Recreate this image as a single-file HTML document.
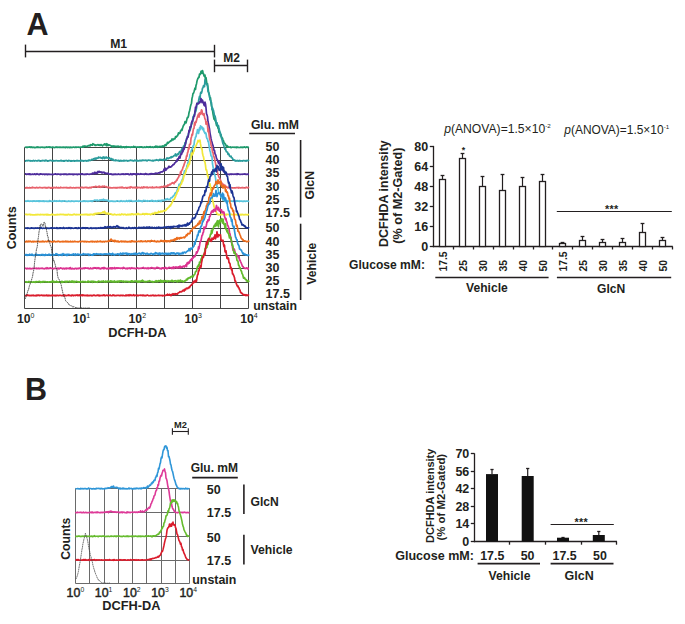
<!DOCTYPE html>
<html><head><meta charset="utf-8"><title>Figure</title>
<style>html,body{margin:0;padding:0;background:#fff;width:685px;height:624px;overflow:hidden}
svg{display:block;font-family:"Liberation Sans",sans-serif}</style></head>
<body>
<svg width="685" height="624" viewBox="0 0 685 624" font-family="Liberation Sans, sans-serif" fill="#231f20">
<line x1="24.50" y1="147.50" x2="24.50" y2="308.50" stroke="#444444" stroke-width="1.0" />
<line x1="52.50" y1="147.50" x2="52.50" y2="308.50" stroke="#444444" stroke-width="1.0" />
<line x1="80.50" y1="147.50" x2="80.50" y2="308.50" stroke="#444444" stroke-width="1.0" />
<line x1="108.50" y1="147.50" x2="108.50" y2="308.50" stroke="#444444" stroke-width="1.0" />
<line x1="136.50" y1="147.50" x2="136.50" y2="308.50" stroke="#444444" stroke-width="1.0" />
<line x1="164.50" y1="147.50" x2="164.50" y2="308.50" stroke="#444444" stroke-width="1.0" />
<line x1="192.50" y1="147.50" x2="192.50" y2="308.50" stroke="#444444" stroke-width="1.0" />
<line x1="220.50" y1="147.50" x2="220.50" y2="308.50" stroke="#444444" stroke-width="1.0" />
<line x1="248.50" y1="147.50" x2="248.50" y2="308.50" stroke="#444444" stroke-width="1.0" />
<line x1="24.50" y1="147.50" x2="248.50" y2="147.50" stroke="#444444" stroke-width="1.0" />
<line x1="24.50" y1="160.50" x2="248.50" y2="160.50" stroke="#444444" stroke-width="1.0" />
<line x1="24.50" y1="174.50" x2="248.50" y2="174.50" stroke="#444444" stroke-width="1.0" />
<line x1="24.50" y1="187.50" x2="248.50" y2="187.50" stroke="#444444" stroke-width="1.0" />
<line x1="24.50" y1="201.50" x2="248.50" y2="201.50" stroke="#444444" stroke-width="1.0" />
<line x1="24.50" y1="214.50" x2="248.50" y2="214.50" stroke="#444444" stroke-width="1.0" />
<line x1="24.50" y1="228.50" x2="248.50" y2="228.50" stroke="#444444" stroke-width="1.0" />
<line x1="24.50" y1="241.50" x2="248.50" y2="241.50" stroke="#444444" stroke-width="1.0" />
<line x1="24.50" y1="255.50" x2="248.50" y2="255.50" stroke="#444444" stroke-width="1.0" />
<line x1="24.50" y1="268.50" x2="248.50" y2="268.50" stroke="#444444" stroke-width="1.0" />
<line x1="24.50" y1="282.50" x2="248.50" y2="282.50" stroke="#444444" stroke-width="1.0" />
<line x1="24.50" y1="295.50" x2="248.50" y2="295.50" stroke="#444444" stroke-width="1.0" />
<line x1="24.50" y1="308.50" x2="248.50" y2="308.50" stroke="#444444" stroke-width="1.0" />
<path d="M25.0 147.55 L25.5 147.24 L26.0 147.13 L26.5 147.18 L27.0 147.51 L27.5 147.06 L28.0 147.15 L28.5 147.14 L29.0 147.14 L29.5 147.06 L30.0 146.81 L30.5 147.43 L31.0 147.29 L31.5 146.91 L32.0 147.59 L32.5 147.23 L33.0 147.45 L33.5 147.30 L34.0 147.20 L34.5 147.60 L35.0 147.52 L35.5 147.60 L36.0 147.35 L36.5 147.45 L37.0 146.97 L37.5 147.43 L38.0 146.92 L38.5 147.39 L39.0 147.24 L39.5 147.29 L40.0 147.30 L40.5 147.55 L41.0 147.23 L41.5 147.22 L42.0 147.25 L42.5 147.16 L43.0 147.48 L43.5 147.37 L44.0 147.45 L44.5 147.60 L45.0 147.22 L45.5 147.44 L46.0 147.32 L46.5 146.81 L47.0 147.25 L47.5 147.28 L48.0 147.06 L48.5 147.03 L49.0 146.90 L49.5 147.41 L50.0 146.90 L50.5 147.33 L51.0 147.55 L51.5 147.50 L52.0 147.06 L52.5 147.13 L53.0 147.02 L53.5 147.50 L54.0 147.37 L54.5 147.56 L55.0 147.60 L55.5 147.30 L56.0 146.95 L56.5 147.06 L57.0 147.47 L57.5 147.04 L58.0 147.43 L58.5 147.23 L59.0 147.12 L59.5 147.39 L60.0 147.49 L60.5 147.16 L61.0 147.34 L61.5 147.42 L62.0 147.16 L62.5 147.35 L63.0 147.22 L63.5 147.51 L64.0 147.14 L64.5 147.51 L65.0 147.38 L65.5 147.60 L66.0 147.05 L66.5 147.28 L67.0 147.20 L67.5 147.60 L68.0 147.27 L68.5 147.39 L69.0 147.04 L69.5 147.60 L70.0 147.22 L70.5 147.07 L71.0 147.56 L71.5 147.28 L72.0 147.54 L72.5 147.29 L73.0 147.23 L73.5 147.01 L74.0 147.26 L74.5 147.45 L75.0 147.17 L75.5 147.30 L76.0 147.06 L76.5 147.43 L77.0 147.01 L77.5 147.26 L78.0 147.25 L78.5 147.07 L79.0 147.42 L79.5 147.40 L80.0 147.12 L80.5 147.22 L81.0 147.11 L81.5 147.17 L82.0 147.06 L82.5 146.61 L83.0 146.16 L83.5 147.18 L84.0 146.11 L84.5 146.29 L85.0 146.03 L85.5 146.31 L86.0 146.55 L86.5 146.24 L87.0 146.41 L87.5 146.59 L88.0 145.83 L88.5 145.57 L89.0 145.67 L89.5 145.34 L90.0 145.97 L90.5 144.71 L91.0 145.13 L91.5 144.94 L92.0 144.57 L92.5 145.12 L93.0 143.70 L93.5 144.33 L94.0 144.37 L94.5 144.89 L95.0 145.31 L95.5 144.80 L96.0 145.37 L96.5 144.98 L97.0 145.01 L97.5 144.60 L98.0 144.98 L98.5 145.14 L99.0 144.63 L99.5 145.30 L100.0 145.47 L100.5 145.43 L101.0 144.52 L101.5 145.08 L102.0 145.29 L102.5 145.85 L103.0 145.37 L103.5 144.69 L104.0 144.50 L104.5 143.93 L105.0 144.97 L105.5 144.38 L106.0 144.02 L106.5 145.74 L107.0 143.72 L107.5 145.42 L108.0 145.54 L108.5 144.76 L109.0 145.12 L109.5 144.92 L110.0 145.29 L110.5 145.57 L111.0 145.88 L111.5 146.25 L112.0 145.82 L112.5 146.87 L113.0 146.28 L113.5 145.98 L114.0 146.75 L114.5 146.07 L115.0 146.09 L115.5 146.47 L116.0 146.60 L116.5 146.41 L117.0 146.44 L117.5 146.80 L118.0 146.10 L118.5 146.34 L119.0 146.56 L119.5 146.49 L120.0 146.56 L120.5 147.41 L121.0 146.23 L121.5 147.44 L122.0 146.94 L122.5 147.33 L123.0 146.81 L123.5 146.87 L124.0 146.93 L124.5 147.60 L125.0 146.76 L125.5 146.92 L126.0 147.60 L126.5 146.54 L127.0 147.05 L127.5 147.23 L128.0 146.87 L128.5 147.16 L129.0 146.88 L129.5 147.11 L130.0 147.27 L130.5 147.35 L131.0 146.76 L131.5 146.97 L132.0 147.23 L132.5 147.18 L133.0 147.27 L133.5 146.35 L134.0 146.88 L134.5 146.94 L135.0 146.54 L135.5 147.20 L136.0 147.33 L136.5 147.15 L137.0 146.95 L137.5 147.06 L138.0 147.10 L138.5 146.95 L139.0 147.14 L139.5 147.33 L140.0 146.78 L140.5 147.09 L141.0 147.09 L141.5 146.85 L142.0 146.88 L142.5 147.35 L143.0 147.23 L143.5 147.43 L144.0 147.37 L144.5 146.92 L145.0 147.16 L145.5 147.30 L146.0 147.41 L146.5 146.63 L147.0 147.14 L147.5 146.94 L148.0 147.04 L148.5 147.30 L149.0 146.88 L149.5 146.97 L150.0 146.61 L150.5 146.81 L151.0 147.37 L151.5 147.01 L152.0 146.99 L152.5 146.96 L153.0 147.32 L153.5 147.44 L154.0 146.94 L154.5 146.77 L155.0 147.25 L155.5 146.25 L156.0 146.62 L156.5 146.98 L157.0 146.13 L157.5 147.29 L158.0 147.11 L158.5 147.12 L159.0 146.35 L159.5 146.96 L160.0 146.42 L160.5 146.52 L161.0 146.74 L161.5 146.40 L162.0 146.79 L162.5 145.95 L163.0 146.55 L163.5 146.42 L164.0 145.70 L164.5 146.01 L165.0 144.80 L165.5 144.64 L166.0 145.59 L166.5 144.30 L167.0 143.98 L167.5 142.32 L168.0 143.25 L168.5 142.83 L169.0 142.14 L169.5 141.73 L170.0 141.75 L170.5 140.70 L171.0 140.84 L171.5 140.71 L172.0 138.88 L172.5 139.41 L173.0 139.85 L173.5 139.75 L174.0 138.72 L174.5 139.00 L175.0 138.70 L175.5 136.68 L176.0 137.13 L176.5 136.94 L177.0 135.85 L177.5 135.81 L178.0 134.72 L178.5 132.77 L179.0 133.56 L179.5 133.38 L180.0 133.15 L180.5 130.98 L181.0 130.83 L181.5 129.45 L182.0 130.24 L182.5 128.21 L183.0 126.80 L183.5 125.41 L184.0 124.66 L184.5 124.16 L185.0 121.66 L185.5 121.90 L186.0 122.92 L186.5 121.09 L187.0 118.75 L187.5 117.25 L188.0 117.56 L188.5 116.01 L189.0 112.71 L189.5 111.03 L190.0 108.87 L190.5 106.19 L191.0 104.56 L191.5 103.21 L192.0 98.35 L192.5 96.47 L193.0 93.53 L193.5 93.20 L194.0 91.77 L194.5 89.87 L195.0 88.05 L195.5 89.37 L196.0 85.38 L196.5 83.95 L197.0 81.13 L197.5 79.37 L198.0 78.54 L198.5 77.23 L199.0 77.42 L199.5 74.16 L200.0 74.63 L200.5 73.91 L201.0 71.35 L201.5 71.20 L202.0 73.31 L202.5 70.50 L203.0 72.31 L203.5 73.74 L204.0 75.73 L204.5 76.56 L205.0 75.10 L205.5 81.05 L206.0 77.62 L206.5 81.13 L207.0 84.58 L207.5 83.72 L208.0 87.60 L208.5 91.70 L209.0 93.18 L209.5 96.22 L210.0 99.01 L210.5 97.78 L211.0 102.90 L211.5 105.99 L212.0 107.46 L212.5 110.17 L213.0 113.85 L213.5 116.29 L214.0 119.22 L214.5 117.94 L215.0 120.64 L215.5 120.82 L216.0 122.92 L216.5 125.43 L217.0 125.90 L217.5 125.19 L218.0 128.35 L218.5 128.66 L219.0 132.40 L219.5 132.36 L220.0 132.26 L220.5 135.77 L221.0 134.80 L221.5 137.16 L222.0 138.42 L222.5 138.23 L223.0 140.64 L223.5 140.80 L224.0 142.72 L224.5 143.24 L225.0 143.71 L225.5 144.37 L226.0 145.53 L226.5 146.81 L227.0 145.63 L227.5 146.78 L228.0 146.41 L228.5 147.26 L229.0 147.27 L229.5 147.21 L230.0 147.28 L230.5 146.83 L231.0 147.60 L231.5 147.41 L232.0 147.23 L232.5 147.19 L233.0 147.28 L233.5 147.24 L234.0 147.06 L234.5 147.41 L235.0 147.41 L235.5 147.31 L236.0 147.13 L236.5 147.60 L237.0 146.87 L237.5 147.37 L238.0 147.43 L238.5 147.37 L239.0 147.54 L239.5 147.50 L240.0 147.36 L240.5 147.19 L241.0 147.13 L241.5 147.38 L242.0 147.36 L242.5 147.19 L243.0 147.60 L243.5 147.33 L244.0 147.06 L244.5 146.93 L245.0 147.34 L245.5 147.60 L246.0 147.43 L246.5 147.02 L247.0 146.85 L247.5 147.33 L248.0 147.60 L248.5 147.26 L249.0 147.12" fill="none" stroke="#1e9a6c" stroke-width="1.7" stroke-linejoin="round" />
<path d="M25.0 160.94 L25.5 161.07 L26.0 160.64 L26.5 160.61 L27.0 160.84 L27.5 160.69 L28.0 160.39 L28.5 160.54 L29.0 160.61 L29.5 160.62 L30.0 160.96 L30.5 160.56 L31.0 161.07 L31.5 160.84 L32.0 160.87 L32.5 161.07 L33.0 160.79 L33.5 160.41 L34.0 160.84 L34.5 161.04 L35.0 160.79 L35.5 160.58 L36.0 160.73 L36.5 160.77 L37.0 161.07 L37.5 160.66 L38.0 160.66 L38.5 160.47 L39.0 160.44 L39.5 160.62 L40.0 161.07 L40.5 161.07 L41.0 161.01 L41.5 160.71 L42.0 160.94 L42.5 160.48 L43.0 160.72 L43.5 160.69 L44.0 160.60 L44.5 160.70 L45.0 161.07 L45.5 160.23 L46.0 160.45 L46.5 160.43 L47.0 160.93 L47.5 161.07 L48.0 161.07 L48.5 161.00 L49.0 160.58 L49.5 160.57 L50.0 160.45 L50.5 160.30 L51.0 160.66 L51.5 160.69 L52.0 160.85 L52.5 160.84 L53.0 161.02 L53.5 160.66 L54.0 160.70 L54.5 160.86 L55.0 160.95 L55.5 160.67 L56.0 160.48 L56.5 160.75 L57.0 160.71 L57.5 160.89 L58.0 160.82 L58.5 160.84 L59.0 160.83 L59.5 160.90 L60.0 160.68 L60.5 160.48 L61.0 160.98 L61.5 160.46 L62.0 160.86 L62.5 160.85 L63.0 161.07 L63.5 161.07 L64.0 160.61 L64.5 161.01 L65.0 160.59 L65.5 160.76 L66.0 160.71 L66.5 160.48 L67.0 160.79 L67.5 161.07 L68.0 161.07 L68.5 160.56 L69.0 160.33 L69.5 160.79 L70.0 160.92 L70.5 161.07 L71.0 160.65 L71.5 161.07 L72.0 161.04 L72.5 160.74 L73.0 160.75 L73.5 160.83 L74.0 160.54 L74.5 161.04 L75.0 161.03 L75.5 160.86 L76.0 160.76 L76.5 160.84 L77.0 160.33 L77.5 160.90 L78.0 160.63 L78.5 160.90 L79.0 160.70 L79.5 160.87 L80.0 160.86 L80.5 160.41 L81.0 160.84 L81.5 160.39 L82.0 160.93 L82.5 160.87 L83.0 160.53 L83.5 161.07 L84.0 161.07 L84.5 160.77 L85.0 160.67 L85.5 160.64 L86.0 160.84 L86.5 161.07 L87.0 160.57 L87.5 160.63 L88.0 160.98 L88.5 160.57 L89.0 159.93 L89.5 160.30 L90.0 160.60 L90.5 160.21 L91.0 160.05 L91.5 159.64 L92.0 159.28 L92.5 159.85 L93.0 159.61 L93.5 158.78 L94.0 158.74 L94.5 158.33 L95.0 159.41 L95.5 159.05 L96.0 158.01 L96.5 158.76 L97.0 158.02 L97.5 158.05 L98.0 158.23 L98.5 157.01 L99.0 157.59 L99.5 157.73 L100.0 157.48 L100.5 157.26 L101.0 158.20 L101.5 157.89 L102.0 158.16 L102.5 158.63 L103.0 157.16 L103.5 156.97 L104.0 157.11 L104.5 158.55 L105.0 157.44 L105.5 157.25 L106.0 157.81 L106.5 157.05 L107.0 157.98 L107.5 157.96 L108.0 157.92 L108.5 158.03 L109.0 158.41 L109.5 157.76 L110.0 159.01 L110.5 159.03 L111.0 159.40 L111.5 158.52 L112.0 159.98 L112.5 159.63 L113.0 159.26 L113.5 160.44 L114.0 160.39 L114.5 160.30 L115.0 160.71 L115.5 159.96 L116.0 160.59 L116.5 160.21 L117.0 160.45 L117.5 160.66 L118.0 160.47 L118.5 160.82 L119.0 160.50 L119.5 161.07 L120.0 160.93 L120.5 160.44 L121.0 161.07 L121.5 160.60 L122.0 160.82 L122.5 160.85 L123.0 160.89 L123.5 160.36 L124.0 161.07 L124.5 160.46 L125.0 160.55 L125.5 160.78 L126.0 160.69 L126.5 160.46 L127.0 160.81 L127.5 161.06 L128.0 160.56 L128.5 160.86 L129.0 160.74 L129.5 160.60 L130.0 160.40 L130.5 160.09 L131.0 160.50 L131.5 160.55 L132.0 160.35 L132.5 160.49 L133.0 161.05 L133.5 160.73 L134.0 160.91 L134.5 160.34 L135.0 160.17 L135.5 160.43 L136.0 160.83 L136.5 160.28 L137.0 160.80 L137.5 160.43 L138.0 160.86 L138.5 160.91 L139.0 160.91 L139.5 160.47 L140.0 160.67 L140.5 160.33 L141.0 160.85 L141.5 160.30 L142.0 160.63 L142.5 160.06 L143.0 160.12 L143.5 160.49 L144.0 160.39 L144.5 160.34 L145.0 160.26 L145.5 160.48 L146.0 160.05 L146.5 160.54 L147.0 160.98 L147.5 160.29 L148.0 160.40 L148.5 160.09 L149.0 160.16 L149.5 160.30 L150.0 160.30 L150.5 160.29 L151.0 160.54 L151.5 160.71 L152.0 160.57 L152.5 160.33 L153.0 161.03 L153.5 160.43 L154.0 160.60 L154.5 160.30 L155.0 160.52 L155.5 160.20 L156.0 160.26 L156.5 159.71 L157.0 160.23 L157.5 160.15 L158.0 160.02 L158.5 160.63 L159.0 160.33 L159.5 159.39 L160.0 159.68 L160.5 159.80 L161.0 159.39 L161.5 159.82 L162.0 159.80 L162.5 159.78 L163.0 160.31 L163.5 159.23 L164.0 159.61 L164.5 159.52 L165.0 159.52 L165.5 159.52 L166.0 160.05 L166.5 158.89 L167.0 157.84 L167.5 158.18 L168.0 158.57 L168.5 158.69 L169.0 158.08 L169.5 157.75 L170.0 157.81 L170.5 157.17 L171.0 157.87 L171.5 156.67 L172.0 156.92 L172.5 157.05 L173.0 156.68 L173.5 156.10 L174.0 155.63 L174.5 155.76 L175.0 155.23 L175.5 153.92 L176.0 155.97 L176.5 155.91 L177.0 154.36 L177.5 154.68 L178.0 153.68 L178.5 154.42 L179.0 152.96 L179.5 151.80 L180.0 151.49 L180.5 152.47 L181.0 151.41 L181.5 149.96 L182.0 148.53 L182.5 149.69 L183.0 148.69 L183.5 146.18 L184.0 146.27 L184.5 145.69 L185.0 142.73 L185.5 143.74 L186.0 141.52 L186.5 138.64 L187.0 138.71 L187.5 136.02 L188.0 136.60 L188.5 133.29 L189.0 132.25 L189.5 129.71 L190.0 130.25 L190.5 128.87 L191.0 126.94 L191.5 123.86 L192.0 123.95 L192.5 121.33 L193.0 116.94 L193.5 116.48 L194.0 114.76 L194.5 114.56 L195.0 111.09 L195.5 111.93 L196.0 110.63 L196.5 108.19 L197.0 103.35 L197.5 103.42 L198.0 103.43 L198.5 101.25 L199.0 98.77 L199.5 96.36 L200.0 98.92 L200.5 93.19 L201.0 92.20 L201.5 92.99 L202.0 90.98 L202.5 88.10 L203.0 87.75 L203.5 85.69 L204.0 86.34 L204.5 86.72 L205.0 79.88 L205.5 83.45 L206.0 83.78 L206.5 84.06 L207.0 83.97 L207.5 86.26 L208.0 91.25 L208.5 92.19 L209.0 94.26 L209.5 95.57 L210.0 99.64 L210.5 100.27 L211.0 102.38 L211.5 102.64 L212.0 109.73 L212.5 107.92 L213.0 109.32 L213.5 110.62 L214.0 113.22 L214.5 115.98 L215.0 115.89 L215.5 118.00 L216.0 121.13 L216.5 123.32 L217.0 122.60 L217.5 125.61 L218.0 125.30 L218.5 125.82 L219.0 128.85 L219.5 130.58 L220.0 132.56 L220.5 133.23 L221.0 135.15 L221.5 138.27 L222.0 139.49 L222.5 141.85 L223.0 143.90 L223.5 144.26 L224.0 146.19 L224.5 147.86 L225.0 149.34 L225.5 148.47 L226.0 150.82 L226.5 151.79 L227.0 152.02 L227.5 152.11 L228.0 154.37 L228.5 153.56 L229.0 154.38 L229.5 155.95 L230.0 156.51 L230.5 156.58 L231.0 156.09 L231.5 157.76 L232.0 157.69 L232.5 158.33 L233.0 159.89 L233.5 159.70 L234.0 159.73 L234.5 160.53 L235.0 160.23 L235.5 160.98 L236.0 161.07 L236.5 160.87 L237.0 160.63 L237.5 160.85 L238.0 160.57 L238.5 161.07 L239.0 160.90 L239.5 160.47 L240.0 161.07 L240.5 160.70 L241.0 160.96 L241.5 160.93 L242.0 160.84 L242.5 161.07 L243.0 160.56 L243.5 160.64 L244.0 160.50 L244.5 160.73 L245.0 160.98 L245.5 160.63 L246.0 161.06 L246.5 160.97 L247.0 160.31 L247.5 160.53 L248.0 160.67 L248.5 160.44 L249.0 160.83" fill="none" stroke="#2a9c9c" stroke-width="1.7" stroke-linejoin="round" />
<path d="M25.0 174.10 L25.5 173.76 L26.0 174.03 L26.5 174.48 L27.0 174.37 L27.5 174.05 L28.0 174.25 L28.5 173.98 L29.0 174.54 L29.5 173.78 L30.0 173.83 L30.5 174.54 L31.0 174.31 L31.5 174.37 L32.0 174.32 L32.5 174.02 L33.0 174.35 L33.5 174.44 L34.0 174.07 L34.5 173.93 L35.0 174.33 L35.5 174.16 L36.0 174.54 L36.5 174.00 L37.0 173.71 L37.5 174.09 L38.0 174.24 L38.5 174.54 L39.0 174.29 L39.5 174.54 L40.0 174.05 L40.5 173.82 L41.0 173.91 L41.5 174.18 L42.0 174.11 L42.5 174.38 L43.0 174.17 L43.5 174.17 L44.0 174.23 L44.5 174.54 L45.0 174.17 L45.5 174.13 L46.0 174.40 L46.5 174.13 L47.0 174.05 L47.5 174.54 L48.0 174.03 L48.5 174.35 L49.0 174.50 L49.5 174.21 L50.0 174.43 L50.5 174.36 L51.0 174.48 L51.5 174.41 L52.0 174.53 L52.5 174.39 L53.0 174.50 L53.5 174.54 L54.0 174.01 L54.5 174.24 L55.0 174.15 L55.5 173.86 L56.0 174.10 L56.5 174.24 L57.0 174.50 L57.5 174.07 L58.0 174.14 L58.5 174.01 L59.0 174.27 L59.5 174.33 L60.0 174.54 L60.5 174.12 L61.0 174.54 L61.5 174.36 L62.0 174.14 L62.5 174.24 L63.0 174.27 L63.5 174.15 L64.0 174.54 L64.5 174.24 L65.0 173.97 L65.5 173.99 L66.0 174.54 L66.5 174.04 L67.0 174.15 L67.5 174.48 L68.0 174.54 L68.5 174.29 L69.0 173.94 L69.5 174.14 L70.0 174.47 L70.5 174.23 L71.0 174.02 L71.5 174.27 L72.0 174.36 L72.5 174.15 L73.0 174.54 L73.5 174.15 L74.0 174.54 L74.5 174.27 L75.0 174.17 L75.5 174.29 L76.0 174.43 L76.5 174.34 L77.0 174.07 L77.5 174.54 L78.0 174.46 L78.5 174.18 L79.0 174.07 L79.5 174.26 L80.0 174.38 L80.5 174.09 L81.0 174.34 L81.5 173.79 L82.0 173.95 L82.5 173.82 L83.0 174.47 L83.5 174.36 L84.0 174.31 L84.5 174.54 L85.0 174.37 L85.5 174.04 L86.0 174.48 L86.5 174.32 L87.0 173.91 L87.5 174.18 L88.0 174.14 L88.5 174.25 L89.0 174.40 L89.5 174.32 L90.0 174.11 L90.5 174.27 L91.0 173.98 L91.5 174.02 L92.0 173.78 L92.5 173.08 L93.0 173.28 L93.5 173.87 L94.0 173.33 L94.5 172.41 L95.0 172.28 L95.5 173.36 L96.0 172.57 L96.5 172.63 L97.0 173.60 L97.5 172.25 L98.0 171.36 L98.5 172.46 L99.0 172.16 L99.5 171.50 L100.0 172.12 L100.5 172.15 L101.0 171.89 L101.5 172.79 L102.0 172.03 L102.5 172.96 L103.0 172.48 L103.5 172.28 L104.0 172.06 L104.5 173.20 L105.0 172.91 L105.5 173.03 L106.0 173.94 L106.5 173.41 L107.0 173.42 L107.5 173.43 L108.0 173.08 L108.5 173.84 L109.0 174.01 L109.5 174.12 L110.0 174.17 L110.5 174.09 L111.0 173.84 L111.5 174.49 L112.0 174.23 L112.5 174.54 L113.0 174.54 L113.5 174.19 L114.0 174.54 L114.5 174.14 L115.0 173.89 L115.5 174.43 L116.0 174.40 L116.5 174.21 L117.0 174.34 L117.5 174.22 L118.0 174.38 L118.5 173.97 L119.0 174.11 L119.5 174.21 L120.0 174.54 L120.5 174.37 L121.0 174.17 L121.5 173.99 L122.0 174.35 L122.5 174.01 L123.0 173.94 L123.5 174.33 L124.0 173.96 L124.5 174.21 L125.0 174.46 L125.5 174.16 L126.0 173.79 L126.5 174.04 L127.0 174.13 L127.5 173.90 L128.0 173.94 L128.5 174.07 L129.0 174.54 L129.5 174.54 L130.0 174.54 L130.5 173.66 L131.0 173.93 L131.5 174.54 L132.0 173.90 L132.5 174.52 L133.0 174.06 L133.5 173.85 L134.0 174.15 L134.5 173.88 L135.0 173.86 L135.5 174.54 L136.0 174.13 L136.5 173.97 L137.0 174.25 L137.5 174.49 L138.0 173.68 L138.5 174.02 L139.0 174.26 L139.5 174.35 L140.0 174.11 L140.5 173.74 L141.0 174.23 L141.5 173.93 L142.0 173.99 L142.5 174.13 L143.0 174.06 L143.5 174.04 L144.0 174.33 L144.5 174.47 L145.0 173.84 L145.5 173.62 L146.0 173.87 L146.5 174.29 L147.0 174.02 L147.5 174.18 L148.0 174.43 L148.5 174.32 L149.0 174.18 L149.5 173.85 L150.0 174.35 L150.5 173.66 L151.0 173.99 L151.5 173.64 L152.0 173.69 L152.5 173.93 L153.0 173.95 L153.5 173.88 L154.0 173.87 L154.5 173.72 L155.0 173.32 L155.5 173.61 L156.0 173.19 L156.5 173.27 L157.0 173.61 L157.5 173.18 L158.0 173.00 L158.5 172.79 L159.0 173.14 L159.5 172.41 L160.0 172.89 L160.5 172.48 L161.0 171.85 L161.5 171.76 L162.0 171.93 L162.5 171.84 L163.0 171.17 L163.5 170.96 L164.0 169.19 L164.5 170.55 L165.0 170.48 L165.5 168.23 L166.0 170.11 L166.5 169.25 L167.0 168.38 L167.5 168.40 L168.0 167.98 L168.5 166.98 L169.0 166.24 L169.5 167.27 L170.0 166.92 L170.5 167.08 L171.0 166.93 L171.5 166.53 L172.0 165.69 L172.5 165.68 L173.0 164.62 L173.5 164.59 L174.0 164.47 L174.5 163.39 L175.0 162.77 L175.5 162.40 L176.0 161.78 L176.5 160.48 L177.0 161.34 L177.5 159.03 L178.0 159.67 L178.5 158.71 L179.0 156.94 L179.5 156.48 L180.0 158.01 L180.5 155.24 L181.0 153.38 L181.5 154.45 L182.0 153.01 L182.5 150.32 L183.0 151.77 L183.5 147.75 L184.0 149.54 L184.5 147.55 L185.0 145.84 L185.5 144.10 L186.0 141.13 L186.5 139.81 L187.0 138.39 L187.5 136.67 L188.0 137.13 L188.5 134.35 L189.0 130.66 L189.5 131.77 L190.0 126.95 L190.5 127.27 L191.0 126.73 L191.5 122.79 L192.0 121.21 L192.5 121.43 L193.0 119.61 L193.5 118.18 L194.0 115.90 L194.5 116.19 L195.0 111.85 L195.5 107.09 L196.0 107.90 L196.5 105.09 L197.0 103.28 L197.5 103.46 L198.0 103.91 L198.5 103.64 L199.0 103.35 L199.5 101.76 L200.0 102.49 L200.5 100.44 L201.0 98.48 L201.5 99.98 L202.0 102.69 L202.5 100.19 L203.0 101.69 L203.5 103.12 L204.0 104.97 L204.5 105.74 L205.0 102.19 L205.5 103.98 L206.0 107.79 L206.5 113.75 L207.0 114.87 L207.5 116.63 L208.0 121.73 L208.5 123.75 L209.0 126.37 L209.5 128.91 L210.0 133.04 L210.5 135.63 L211.0 138.50 L211.5 140.67 L212.0 142.17 L212.5 144.42 L213.0 145.46 L213.5 147.87 L214.0 150.26 L214.5 150.44 L215.0 153.78 L215.5 154.51 L216.0 156.08 L216.5 158.35 L217.0 159.10 L217.5 160.03 L218.0 161.70 L218.5 163.25 L219.0 161.36 L219.5 164.67 L220.0 165.41 L220.5 166.35 L221.0 167.20 L221.5 167.70 L222.0 168.75 L222.5 170.43 L223.0 170.73 L223.5 171.20 L224.0 172.09 L224.5 171.93 L225.0 172.68 L225.5 172.81 L226.0 173.87 L226.5 173.24 L227.0 174.08 L227.5 174.44 L228.0 174.45 L228.5 174.43 L229.0 174.18 L229.5 174.54 L230.0 174.46 L230.5 174.01 L231.0 173.97 L231.5 174.48 L232.0 174.21 L232.5 174.19 L233.0 174.28 L233.5 174.36 L234.0 174.05 L234.5 174.29 L235.0 174.18 L235.5 174.05 L236.0 174.43 L236.5 174.42 L237.0 173.73 L237.5 174.44 L238.0 173.97 L238.5 173.96 L239.0 174.20 L239.5 174.29 L240.0 174.24 L240.5 174.38 L241.0 174.22 L241.5 174.27 L242.0 174.34 L242.5 174.30 L243.0 174.04 L243.5 174.22 L244.0 174.27 L244.5 173.80 L245.0 174.23 L245.5 174.09 L246.0 174.41 L246.5 174.45 L247.0 174.12 L247.5 174.01 L248.0 174.54 L248.5 174.08 L249.0 174.05" fill="none" stroke="#4e2c9c" stroke-width="1.7" stroke-linejoin="round" />
<path d="M25.0 187.47 L25.5 187.99 L26.0 187.57 L26.5 187.97 L27.0 187.47 L27.5 188.01 L28.0 187.87 L28.5 187.84 L29.0 188.01 L29.5 187.52 L30.0 188.01 L30.5 188.00 L31.0 187.83 L31.5 187.55 L32.0 187.89 L32.5 187.27 L33.0 187.72 L33.5 187.77 L34.0 187.61 L34.5 187.74 L35.0 187.94 L35.5 187.83 L36.0 187.67 L36.5 187.36 L37.0 187.65 L37.5 187.61 L38.0 188.01 L38.5 187.77 L39.0 187.72 L39.5 187.32 L40.0 187.36 L40.5 187.68 L41.0 187.59 L41.5 187.73 L42.0 187.87 L42.5 187.71 L43.0 187.79 L43.5 187.64 L44.0 187.56 L44.5 187.75 L45.0 187.46 L45.5 187.96 L46.0 187.71 L46.5 187.67 L47.0 188.01 L47.5 187.57 L48.0 187.55 L48.5 187.33 L49.0 187.72 L49.5 187.58 L50.0 187.57 L50.5 188.01 L51.0 187.64 L51.5 188.01 L52.0 187.65 L52.5 187.55 L53.0 187.65 L53.5 188.01 L54.0 187.39 L54.5 187.64 L55.0 187.49 L55.5 187.86 L56.0 187.80 L56.5 187.25 L57.0 187.75 L57.5 187.80 L58.0 187.79 L58.5 187.49 L59.0 188.01 L59.5 187.78 L60.0 187.91 L60.5 187.16 L61.0 187.47 L61.5 187.69 L62.0 187.66 L62.5 187.76 L63.0 187.81 L63.5 187.75 L64.0 187.32 L64.5 187.77 L65.0 187.77 L65.5 187.64 L66.0 187.38 L66.5 187.60 L67.0 187.94 L67.5 187.70 L68.0 187.70 L68.5 188.00 L69.0 187.87 L69.5 187.63 L70.0 187.80 L70.5 187.34 L71.0 187.63 L71.5 187.81 L72.0 187.73 L72.5 187.91 L73.0 187.85 L73.5 187.54 L74.0 187.72 L74.5 188.01 L75.0 188.00 L75.5 187.58 L76.0 187.96 L76.5 187.78 L77.0 187.46 L77.5 187.76 L78.0 187.77 L78.5 187.79 L79.0 187.47 L79.5 187.86 L80.0 187.98 L80.5 187.69 L81.0 187.34 L81.5 187.62 L82.0 187.36 L82.5 187.43 L83.0 187.95 L83.5 187.69 L84.0 187.72 L84.5 187.70 L85.0 187.43 L85.5 187.39 L86.0 187.53 L86.5 187.43 L87.0 187.83 L87.5 187.52 L88.0 187.93 L88.5 187.77 L89.0 187.98 L89.5 187.37 L90.0 187.74 L90.5 187.36 L91.0 187.86 L91.5 187.31 L92.0 187.03 L92.5 187.15 L93.0 187.01 L93.5 186.92 L94.0 186.90 L94.5 186.93 L95.0 187.04 L95.5 186.31 L96.0 186.68 L96.5 186.65 L97.0 186.55 L97.5 187.14 L98.0 187.18 L98.5 187.17 L99.0 186.01 L99.5 186.77 L100.0 186.41 L100.5 187.35 L101.0 186.82 L101.5 186.63 L102.0 186.88 L102.5 186.26 L103.0 186.80 L103.5 186.70 L104.0 186.26 L104.5 186.10 L105.0 186.61 L105.5 186.96 L106.0 186.98 L106.5 186.56 L107.0 187.44 L107.5 187.51 L108.0 187.58 L108.5 187.07 L109.0 187.36 L109.5 187.81 L110.0 187.82 L110.5 187.67 L111.0 187.81 L111.5 187.94 L112.0 187.89 L112.5 187.73 L113.0 187.83 L113.5 187.69 L114.0 187.77 L114.5 187.85 L115.0 187.56 L115.5 187.55 L116.0 188.01 L116.5 187.60 L117.0 187.78 L117.5 187.92 L118.0 187.46 L118.5 187.59 L119.0 187.50 L119.5 187.79 L120.0 187.18 L120.5 187.51 L121.0 187.80 L121.5 187.14 L122.0 187.85 L122.5 187.23 L123.0 187.71 L123.5 187.79 L124.0 187.82 L124.5 187.89 L125.0 187.87 L125.5 187.52 L126.0 187.64 L126.5 188.01 L127.0 187.55 L127.5 188.01 L128.0 187.46 L128.5 187.72 L129.0 187.66 L129.5 187.26 L130.0 188.01 L130.5 186.97 L131.0 186.73 L131.5 187.27 L132.0 187.41 L132.5 187.76 L133.0 187.26 L133.5 187.62 L134.0 187.64 L134.5 187.78 L135.0 187.16 L135.5 187.31 L136.0 187.96 L136.5 187.57 L137.0 187.91 L137.5 187.27 L138.0 187.80 L138.5 187.55 L139.0 187.37 L139.5 187.58 L140.0 187.88 L140.5 187.65 L141.0 187.91 L141.5 187.10 L142.0 187.24 L142.5 188.01 L143.0 187.84 L143.5 186.84 L144.0 187.31 L144.5 187.59 L145.0 187.22 L145.5 187.39 L146.0 187.25 L146.5 187.60 L147.0 186.99 L147.5 187.40 L148.0 187.82 L148.5 187.48 L149.0 187.56 L149.5 187.34 L150.0 187.38 L150.5 187.42 L151.0 187.71 L151.5 187.39 L152.0 187.62 L152.5 186.95 L153.0 187.79 L153.5 187.52 L154.0 187.59 L154.5 187.74 L155.0 187.31 L155.5 187.33 L156.0 187.36 L156.5 186.95 L157.0 187.59 L157.5 187.26 L158.0 187.36 L158.5 187.27 L159.0 187.73 L159.5 187.67 L160.0 186.96 L160.5 187.58 L161.0 186.77 L161.5 186.58 L162.0 187.26 L162.5 186.89 L163.0 186.91 L163.5 186.38 L164.0 186.11 L164.5 186.54 L165.0 186.45 L165.5 186.22 L166.0 186.92 L166.5 186.38 L167.0 185.74 L167.5 186.03 L168.0 184.79 L168.5 185.68 L169.0 185.04 L169.5 184.61 L170.0 184.03 L170.5 184.55 L171.0 183.99 L171.5 183.31 L172.0 183.16 L172.5 182.60 L173.0 183.10 L173.5 182.99 L174.0 183.73 L174.5 182.57 L175.0 181.81 L175.5 182.13 L176.0 181.17 L176.5 180.02 L177.0 180.37 L177.5 178.77 L178.0 177.99 L178.5 177.47 L179.0 175.87 L179.5 174.61 L180.0 175.25 L180.5 171.76 L181.0 173.40 L181.5 170.60 L182.0 170.23 L182.5 169.05 L183.0 167.19 L183.5 166.45 L184.0 164.87 L184.5 163.18 L185.0 162.41 L185.5 159.61 L186.0 159.30 L186.5 155.88 L187.0 156.08 L187.5 152.79 L188.0 151.93 L188.5 147.87 L189.0 148.87 L189.5 144.44 L190.0 144.45 L190.5 144.07 L191.0 138.40 L191.5 136.99 L192.0 134.15 L192.5 135.03 L193.0 131.34 L193.5 128.58 L194.0 128.50 L194.5 122.83 L195.0 125.25 L195.5 121.58 L196.0 122.43 L196.5 120.52 L197.0 118.48 L197.5 116.82 L198.0 115.32 L198.5 114.02 L199.0 117.18 L199.5 112.95 L200.0 113.19 L200.5 114.36 L201.0 112.21 L201.5 109.91 L202.0 110.52 L202.5 114.40 L203.0 114.05 L203.5 115.05 L204.0 113.52 L204.5 117.12 L205.0 119.04 L205.5 119.19 L206.0 124.06 L206.5 121.82 L207.0 122.51 L207.5 125.71 L208.0 131.57 L208.5 128.75 L209.0 134.12 L209.5 137.77 L210.0 140.18 L210.5 141.29 L211.0 144.64 L211.5 146.76 L212.0 148.00 L212.5 152.06 L213.0 152.12 L213.5 156.13 L214.0 156.80 L214.5 158.37 L215.0 161.10 L215.5 163.02 L216.0 166.32 L216.5 168.80 L217.0 169.27 L217.5 172.15 L218.0 174.42 L218.5 175.74 L219.0 177.37 L219.5 177.82 L220.0 179.29 L220.5 179.98 L221.0 182.49 L221.5 182.55 L222.0 183.23 L222.5 184.79 L223.0 184.25 L223.5 184.42 L224.0 185.59 L224.5 186.24 L225.0 185.19 L225.5 187.05 L226.0 186.30 L226.5 186.98 L227.0 187.16 L227.5 187.62 L228.0 187.86 L228.5 187.30 L229.0 187.25 L229.5 187.90 L230.0 187.44 L230.5 187.71 L231.0 187.54 L231.5 187.76 L232.0 187.86 L232.5 188.01 L233.0 188.01 L233.5 187.74 L234.0 187.77 L234.5 187.98 L235.0 188.01 L235.5 187.89 L236.0 187.63 L236.5 187.53 L237.0 187.50 L237.5 187.71 L238.0 187.56 L238.5 187.99 L239.0 187.38 L239.5 187.70 L240.0 187.90 L240.5 187.93 L241.0 187.97 L241.5 187.80 L242.0 187.55 L242.5 187.89 L243.0 187.53 L243.5 187.70 L244.0 188.01 L244.5 187.98 L245.0 187.94 L245.5 187.83 L246.0 187.33 L246.5 187.21 L247.0 187.67 L247.5 187.67 L248.0 187.90 L248.5 187.49 L249.0 187.92" fill="none" stroke="#e8626c" stroke-width="1.7" stroke-linejoin="round" />
<path d="M25.0 201.06 L25.5 201.06 L26.0 201.32 L26.5 201.18 L27.0 201.18 L27.5 201.17 L28.0 200.70 L28.5 201.24 L29.0 201.24 L29.5 201.28 L30.0 200.95 L30.5 201.27 L31.0 201.20 L31.5 200.99 L32.0 201.01 L32.5 201.39 L33.0 200.78 L33.5 201.12 L34.0 200.97 L34.5 201.11 L35.0 200.80 L35.5 201.26 L36.0 201.32 L36.5 201.09 L37.0 200.87 L37.5 201.18 L38.0 200.98 L38.5 200.83 L39.0 201.48 L39.5 200.87 L40.0 200.93 L40.5 201.28 L41.0 201.19 L41.5 201.28 L42.0 200.99 L42.5 201.31 L43.0 201.03 L43.5 200.87 L44.0 201.48 L44.5 201.08 L45.0 201.19 L45.5 201.28 L46.0 201.08 L46.5 201.20 L47.0 201.48 L47.5 201.31 L48.0 201.18 L48.5 201.34 L49.0 201.47 L49.5 200.63 L50.0 200.86 L50.5 200.89 L51.0 201.15 L51.5 201.48 L52.0 201.24 L52.5 201.06 L53.0 201.28 L53.5 201.31 L54.0 201.10 L54.5 200.71 L55.0 201.11 L55.5 201.14 L56.0 201.33 L56.5 200.83 L57.0 201.09 L57.5 201.17 L58.0 201.22 L58.5 201.28 L59.0 201.10 L59.5 200.69 L60.0 201.13 L60.5 201.02 L61.0 201.31 L61.5 201.07 L62.0 201.45 L62.5 200.82 L63.0 201.25 L63.5 201.02 L64.0 201.10 L64.5 200.82 L65.0 201.00 L65.5 200.99 L66.0 201.48 L66.5 201.38 L67.0 201.38 L67.5 201.37 L68.0 201.35 L68.5 200.96 L69.0 201.18 L69.5 201.16 L70.0 201.37 L70.5 201.38 L71.0 201.47 L71.5 200.94 L72.0 201.15 L72.5 201.02 L73.0 201.12 L73.5 201.38 L74.0 201.19 L74.5 201.48 L75.0 201.02 L75.5 201.17 L76.0 201.13 L76.5 201.15 L77.0 201.04 L77.5 201.23 L78.0 201.17 L78.5 201.33 L79.0 201.23 L79.5 201.11 L80.0 200.98 L80.5 201.26 L81.0 201.48 L81.5 201.48 L82.0 201.24 L82.5 201.34 L83.0 201.05 L83.5 200.82 L84.0 201.35 L84.5 200.89 L85.0 200.91 L85.5 201.39 L86.0 201.28 L86.5 201.02 L87.0 201.36 L87.5 201.40 L88.0 201.00 L88.5 201.31 L89.0 201.32 L89.5 201.03 L90.0 201.15 L90.5 201.11 L91.0 200.82 L91.5 200.82 L92.0 201.48 L92.5 200.77 L93.0 200.94 L93.5 200.75 L94.0 200.48 L94.5 200.05 L95.0 200.27 L95.5 200.48 L96.0 200.19 L96.5 200.81 L97.0 199.99 L97.5 200.06 L98.0 200.56 L98.5 200.63 L99.0 200.59 L99.5 200.39 L100.0 199.86 L100.5 200.12 L101.0 200.30 L101.5 200.13 L102.0 199.54 L102.5 200.12 L103.0 200.31 L103.5 199.17 L104.0 200.35 L104.5 199.91 L105.0 199.84 L105.5 200.21 L106.0 200.44 L106.5 200.02 L107.0 200.52 L107.5 200.46 L108.0 200.78 L108.5 200.37 L109.0 201.22 L109.5 201.38 L110.0 201.32 L110.5 201.17 L111.0 201.21 L111.5 201.13 L112.0 201.31 L112.5 201.04 L113.0 201.48 L113.5 201.44 L114.0 201.21 L114.5 201.31 L115.0 201.34 L115.5 201.28 L116.0 201.31 L116.5 201.07 L117.0 200.95 L117.5 200.82 L118.0 201.08 L118.5 201.29 L119.0 201.39 L119.5 201.39 L120.0 201.48 L120.5 200.96 L121.0 200.67 L121.5 201.13 L122.0 201.04 L122.5 201.48 L123.0 201.11 L123.5 201.26 L124.0 201.07 L124.5 201.30 L125.0 201.27 L125.5 201.30 L126.0 201.24 L126.5 200.54 L127.0 200.89 L127.5 201.45 L128.0 201.12 L128.5 201.16 L129.0 200.51 L129.5 201.48 L130.0 200.88 L130.5 200.83 L131.0 200.47 L131.5 200.58 L132.0 201.08 L132.5 201.47 L133.0 201.31 L133.5 201.21 L134.0 201.08 L134.5 201.21 L135.0 201.39 L135.5 200.85 L136.0 200.98 L136.5 201.12 L137.0 201.14 L137.5 201.18 L138.0 201.29 L138.5 200.29 L139.0 201.09 L139.5 201.16 L140.0 200.57 L140.5 201.09 L141.0 200.90 L141.5 201.27 L142.0 201.09 L142.5 201.48 L143.0 200.83 L143.5 200.38 L144.0 200.89 L144.5 200.86 L145.0 200.62 L145.5 200.62 L146.0 201.20 L146.5 201.17 L147.0 201.04 L147.5 200.57 L148.0 201.28 L148.5 201.10 L149.0 201.00 L149.5 200.92 L150.0 200.86 L150.5 201.03 L151.0 200.56 L151.5 201.14 L152.0 200.31 L152.5 200.85 L153.0 200.71 L153.5 201.27 L154.0 200.81 L154.5 201.27 L155.0 201.33 L155.5 200.66 L156.0 200.90 L156.5 201.24 L157.0 201.48 L157.5 200.67 L158.0 200.88 L158.5 200.64 L159.0 200.59 L159.5 200.51 L160.0 201.48 L160.5 201.48 L161.0 200.47 L161.5 201.23 L162.0 200.11 L162.5 200.26 L163.0 200.31 L163.5 200.24 L164.0 200.72 L164.5 200.06 L165.0 200.00 L165.5 199.68 L166.0 198.94 L166.5 199.86 L167.0 199.26 L167.5 198.70 L168.0 199.66 L168.5 199.63 L169.0 199.50 L169.5 199.57 L170.0 199.67 L170.5 198.44 L171.0 197.71 L171.5 197.71 L172.0 197.77 L172.5 197.25 L173.0 196.21 L173.5 196.19 L174.0 195.27 L174.5 194.90 L175.0 193.37 L175.5 192.82 L176.0 192.32 L176.5 192.29 L177.0 190.91 L177.5 189.01 L178.0 187.19 L178.5 187.93 L179.0 184.45 L179.5 185.84 L180.0 184.84 L180.5 183.20 L181.0 183.04 L181.5 181.35 L182.0 180.10 L182.5 179.33 L183.0 177.78 L183.5 175.51 L184.0 173.32 L184.5 170.77 L185.0 171.37 L185.5 171.60 L186.0 169.05 L186.5 168.84 L187.0 165.46 L187.5 164.84 L188.0 162.16 L188.5 161.33 L189.0 159.47 L189.5 158.40 L190.0 154.44 L190.5 157.08 L191.0 151.80 L191.5 150.13 L192.0 149.23 L192.5 148.05 L193.0 146.19 L193.5 145.64 L194.0 144.84 L194.5 140.55 L195.0 138.92 L195.5 136.96 L196.0 136.79 L196.5 133.48 L197.0 132.67 L197.5 129.61 L198.0 131.30 L198.5 133.51 L199.0 130.98 L199.5 127.89 L200.0 129.77 L200.5 125.94 L201.0 127.87 L201.5 126.74 L202.0 127.04 L202.5 129.55 L203.0 128.48 L203.5 128.19 L204.0 131.60 L204.5 132.14 L205.0 133.47 L205.5 132.66 L206.0 133.40 L206.5 137.28 L207.0 138.64 L207.5 138.72 L208.0 141.67 L208.5 141.29 L209.0 145.60 L209.5 148.29 L210.0 150.98 L210.5 152.30 L211.0 155.97 L211.5 156.02 L212.0 157.12 L212.5 163.96 L213.0 166.69 L213.5 169.33 L214.0 171.12 L214.5 174.64 L215.0 175.50 L215.5 177.89 L216.0 181.97 L216.5 183.98 L217.0 186.60 L217.5 187.41 L218.0 188.17 L218.5 191.57 L219.0 192.37 L219.5 193.93 L220.0 194.05 L220.5 195.21 L221.0 197.03 L221.5 197.77 L222.0 197.53 L222.5 198.42 L223.0 200.21 L223.5 200.25 L224.0 200.69 L224.5 200.67 L225.0 201.32 L225.5 200.96 L226.0 200.90 L226.5 200.88 L227.0 201.48 L227.5 200.76 L228.0 201.38 L228.5 201.48 L229.0 200.91 L229.5 200.97 L230.0 201.17 L230.5 200.96 L231.0 201.01 L231.5 201.09 L232.0 201.40 L232.5 201.24 L233.0 201.16 L233.5 200.90 L234.0 200.81 L234.5 201.19 L235.0 201.30 L235.5 201.34 L236.0 200.96 L236.5 201.31 L237.0 200.69 L237.5 201.12 L238.0 201.13 L238.5 201.01 L239.0 201.16 L239.5 201.36 L240.0 201.14 L240.5 201.07 L241.0 201.27 L241.5 201.21 L242.0 201.17 L242.5 201.48 L243.0 201.33 L243.5 201.19 L244.0 201.41 L244.5 201.05 L245.0 201.04 L245.5 201.48 L246.0 201.29 L246.5 201.06 L247.0 201.23 L247.5 201.04 L248.0 201.02 L248.5 201.48 L249.0 201.10" fill="none" stroke="#58c4dc" stroke-width="1.7" stroke-linejoin="round" />
<path d="M25.0 214.66 L25.5 214.38 L26.0 214.21 L26.5 214.66 L27.0 214.70 L27.5 214.42 L28.0 214.64 L28.5 214.47 L29.0 214.30 L29.5 214.53 L30.0 214.41 L30.5 214.95 L31.0 214.42 L31.5 214.68 L32.0 214.86 L32.5 214.68 L33.0 214.91 L33.5 214.91 L34.0 214.95 L34.5 214.79 L35.0 214.95 L35.5 214.83 L36.0 214.47 L36.5 214.64 L37.0 214.93 L37.5 214.55 L38.0 214.43 L38.5 214.64 L39.0 214.65 L39.5 214.68 L40.0 214.87 L40.5 214.42 L41.0 214.55 L41.5 214.67 L42.0 214.67 L42.5 214.69 L43.0 214.33 L43.5 214.72 L44.0 214.95 L44.5 214.63 L45.0 214.46 L45.5 214.51 L46.0 214.74 L46.5 214.95 L47.0 214.20 L47.5 214.88 L48.0 214.63 L48.5 214.70 L49.0 214.81 L49.5 214.76 L50.0 214.91 L50.5 214.87 L51.0 214.78 L51.5 214.70 L52.0 214.13 L52.5 214.89 L53.0 214.42 L53.5 214.66 L54.0 214.76 L54.5 214.95 L55.0 214.69 L55.5 214.91 L56.0 214.61 L56.5 214.60 L57.0 214.94 L57.5 214.42 L58.0 214.71 L58.5 214.66 L59.0 214.61 L59.5 214.75 L60.0 214.43 L60.5 214.30 L61.0 214.62 L61.5 214.45 L62.0 214.23 L62.5 214.50 L63.0 214.69 L63.5 214.38 L64.0 214.61 L64.5 214.68 L65.0 214.95 L65.5 214.61 L66.0 214.83 L66.5 214.59 L67.0 214.95 L67.5 214.91 L68.0 214.33 L68.5 214.26 L69.0 214.57 L69.5 214.59 L70.0 214.95 L70.5 214.56 L71.0 214.81 L71.5 214.95 L72.0 214.90 L72.5 214.91 L73.0 214.52 L73.5 214.63 L74.0 214.14 L74.5 214.34 L75.0 214.65 L75.5 214.54 L76.0 214.94 L76.5 214.47 L77.0 214.73 L77.5 214.62 L78.0 214.58 L78.5 214.64 L79.0 214.74 L79.5 214.49 L80.0 214.48 L80.5 214.95 L81.0 214.79 L81.5 214.69 L82.0 214.78 L82.5 214.61 L83.0 214.46 L83.5 214.62 L84.0 214.68 L84.5 214.42 L85.0 214.56 L85.5 214.58 L86.0 214.18 L86.5 214.39 L87.0 214.86 L87.5 214.33 L88.0 214.80 L88.5 214.59 L89.0 214.95 L89.5 214.41 L90.0 214.95 L90.5 214.54 L91.0 214.14 L91.5 214.47 L92.0 214.56 L92.5 214.78 L93.0 214.49 L93.5 214.00 L94.0 214.94 L94.5 214.43 L95.0 213.49 L95.5 213.99 L96.0 213.31 L96.5 213.40 L97.0 213.92 L97.5 213.57 L98.0 212.89 L98.5 213.52 L99.0 213.34 L99.5 213.03 L100.0 213.41 L100.5 213.22 L101.0 212.81 L101.5 213.02 L102.0 212.85 L102.5 212.47 L103.0 211.87 L103.5 212.65 L104.0 212.88 L104.5 211.36 L105.0 212.35 L105.5 213.72 L106.0 213.25 L106.5 213.87 L107.0 213.04 L107.5 213.94 L108.0 213.81 L108.5 213.14 L109.0 214.12 L109.5 214.01 L110.0 214.02 L110.5 213.94 L111.0 214.06 L111.5 214.05 L112.0 214.74 L112.5 214.49 L113.0 214.95 L113.5 214.63 L114.0 214.67 L114.5 214.17 L115.0 214.53 L115.5 214.70 L116.0 214.70 L116.5 214.83 L117.0 214.72 L117.5 214.77 L118.0 214.58 L118.5 214.73 L119.0 214.56 L119.5 214.28 L120.0 214.87 L120.5 214.77 L121.0 214.90 L121.5 213.97 L122.0 214.06 L122.5 214.38 L123.0 214.50 L123.5 214.78 L124.0 214.21 L124.5 214.47 L125.0 214.37 L125.5 214.46 L126.0 214.95 L126.5 214.95 L127.0 214.62 L127.5 214.30 L128.0 214.75 L128.5 214.39 L129.0 214.54 L129.5 214.76 L130.0 214.23 L130.5 214.76 L131.0 214.80 L131.5 213.89 L132.0 213.95 L132.5 214.31 L133.0 214.02 L133.5 214.57 L134.0 214.44 L134.5 214.23 L135.0 214.22 L135.5 214.15 L136.0 214.73 L136.5 214.01 L137.0 214.66 L137.5 214.32 L138.0 213.47 L138.5 213.97 L139.0 214.44 L139.5 214.16 L140.0 214.50 L140.5 214.47 L141.0 214.51 L141.5 214.35 L142.0 214.23 L142.5 214.02 L143.0 213.51 L143.5 214.05 L144.0 214.11 L144.5 214.57 L145.0 213.76 L145.5 214.13 L146.0 213.65 L146.5 214.13 L147.0 213.60 L147.5 214.33 L148.0 214.26 L148.5 214.20 L149.0 214.21 L149.5 214.00 L150.0 214.00 L150.5 214.70 L151.0 214.35 L151.5 214.15 L152.0 213.57 L152.5 213.81 L153.0 213.33 L153.5 213.25 L154.0 213.32 L154.5 214.12 L155.0 212.41 L155.5 212.90 L156.0 213.21 L156.5 212.72 L157.0 212.95 L157.5 212.59 L158.0 212.86 L158.5 211.41 L159.0 212.37 L159.5 211.91 L160.0 212.30 L160.5 211.47 L161.0 211.04 L161.5 211.49 L162.0 211.86 L162.5 211.22 L163.0 211.30 L163.5 210.66 L164.0 210.83 L164.5 210.67 L165.0 210.79 L165.5 210.61 L166.0 210.13 L166.5 208.95 L167.0 209.08 L167.5 208.05 L168.0 208.01 L168.5 207.25 L169.0 207.14 L169.5 205.80 L170.0 205.45 L170.5 205.89 L171.0 204.30 L171.5 204.08 L172.0 202.50 L172.5 201.91 L173.0 199.89 L173.5 200.03 L174.0 199.78 L174.5 198.74 L175.0 197.73 L175.5 196.72 L176.0 194.78 L176.5 194.62 L177.0 192.75 L177.5 190.95 L178.0 191.28 L178.5 189.70 L179.0 186.92 L179.5 186.95 L180.0 186.72 L180.5 184.63 L181.0 184.41 L181.5 183.89 L182.0 180.89 L182.5 181.59 L183.0 180.01 L183.5 178.08 L184.0 175.58 L184.5 174.41 L185.0 174.52 L185.5 172.43 L186.0 171.46 L186.5 168.64 L187.0 167.88 L187.5 167.76 L188.0 164.49 L188.5 165.90 L189.0 163.40 L189.5 164.16 L190.0 159.17 L190.5 159.39 L191.0 157.13 L191.5 153.03 L192.0 155.06 L192.5 153.89 L193.0 153.73 L193.5 151.39 L194.0 151.15 L194.5 148.48 L195.0 147.32 L195.5 146.41 L196.0 145.90 L196.5 144.58 L197.0 143.23 L197.5 142.29 L198.0 140.40 L198.5 141.72 L199.0 141.06 L199.5 140.73 L200.0 140.08 L200.5 143.91 L201.0 146.67 L201.5 148.84 L202.0 148.46 L202.5 153.48 L203.0 155.44 L203.5 156.87 L204.0 159.73 L204.5 161.19 L205.0 162.38 L205.5 165.46 L206.0 169.94 L206.5 169.66 L207.0 171.74 L207.5 175.80 L208.0 175.47 L208.5 179.49 L209.0 181.51 L209.5 185.34 L210.0 183.79 L210.5 186.66 L211.0 190.11 L211.5 192.54 L212.0 197.45 L212.5 199.96 L213.0 201.64 L213.5 204.04 L214.0 206.67 L214.5 207.53 L215.0 208.78 L215.5 210.85 L216.0 211.27 L216.5 212.74 L217.0 213.72 L217.5 214.31 L218.0 214.69 L218.5 214.30 L219.0 214.95 L219.5 214.50 L220.0 214.52 L220.5 214.93 L221.0 214.51 L221.5 214.62 L222.0 214.24 L222.5 214.54 L223.0 214.66 L223.5 214.51 L224.0 214.35 L224.5 214.81 L225.0 214.80 L225.5 214.44 L226.0 214.18 L226.5 214.91 L227.0 214.28 L227.5 214.51 L228.0 214.44 L228.5 214.49 L229.0 214.71 L229.5 214.75 L230.0 214.13 L230.5 214.90 L231.0 214.60 L231.5 214.29 L232.0 214.64 L232.5 214.46 L233.0 214.61 L233.5 214.79 L234.0 214.50 L234.5 214.62 L235.0 214.76 L235.5 214.47 L236.0 214.70 L236.5 214.57 L237.0 214.74 L237.5 214.30 L238.0 214.42 L238.5 214.56 L239.0 214.66 L239.5 214.68 L240.0 214.67 L240.5 214.83 L241.0 214.31 L241.5 214.82 L242.0 214.44 L242.5 214.44 L243.0 214.69 L243.5 214.66 L244.0 214.92 L244.5 214.68 L245.0 214.77 L245.5 214.45 L246.0 214.79 L246.5 214.77 L247.0 214.50 L247.5 214.95 L248.0 214.80 L248.5 214.39 L249.0 214.68" fill="none" stroke="#f2e83a" stroke-width="1.7" stroke-linejoin="round" />
<path d="M25.0 227.89 L25.5 228.03 L26.0 227.99 L26.5 228.16 L27.0 227.87 L27.5 228.42 L28.0 227.82 L28.5 228.20 L29.0 228.17 L29.5 228.40 L30.0 228.42 L30.5 228.24 L31.0 227.93 L31.5 228.04 L32.0 227.89 L32.5 228.18 L33.0 228.07 L33.5 228.16 L34.0 228.40 L34.5 228.15 L35.0 228.24 L35.5 227.92 L36.0 228.18 L36.5 228.13 L37.0 227.98 L37.5 227.88 L38.0 228.15 L38.5 228.16 L39.0 228.08 L39.5 227.86 L40.0 228.37 L40.5 228.41 L41.0 227.36 L41.5 228.16 L42.0 228.10 L42.5 228.42 L43.0 228.24 L43.5 228.16 L44.0 228.28 L44.5 228.24 L45.0 228.17 L45.5 228.04 L46.0 227.88 L46.5 228.42 L47.0 228.42 L47.5 227.99 L48.0 228.08 L48.5 228.35 L49.0 228.42 L49.5 228.34 L50.0 228.13 L50.5 227.97 L51.0 227.87 L51.5 227.94 L52.0 228.39 L52.5 227.67 L53.0 227.95 L53.5 228.16 L54.0 228.17 L54.5 227.89 L55.0 228.24 L55.5 228.21 L56.0 228.10 L56.5 227.75 L57.0 228.42 L57.5 227.87 L58.0 228.42 L58.5 228.37 L59.0 228.09 L59.5 227.88 L60.0 228.42 L60.5 227.88 L61.0 227.82 L61.5 228.25 L62.0 228.21 L62.5 228.18 L63.0 228.42 L63.5 227.49 L64.0 228.00 L64.5 228.42 L65.0 227.98 L65.5 228.00 L66.0 228.17 L66.5 228.09 L67.0 227.88 L67.5 228.25 L68.0 228.37 L68.5 227.67 L69.0 228.02 L69.5 228.23 L70.0 227.70 L70.5 228.42 L71.0 228.41 L71.5 227.95 L72.0 228.07 L72.5 228.05 L73.0 228.27 L73.5 228.29 L74.0 228.27 L74.5 228.22 L75.0 227.95 L75.5 227.86 L76.0 227.97 L76.5 227.76 L77.0 228.42 L77.5 228.16 L78.0 228.40 L78.5 227.66 L79.0 228.19 L79.5 227.97 L80.0 228.07 L80.5 228.33 L81.0 228.37 L81.5 227.99 L82.0 227.93 L82.5 228.25 L83.0 227.66 L83.5 228.11 L84.0 227.90 L84.5 228.03 L85.0 227.87 L85.5 228.42 L86.0 227.73 L86.5 227.90 L87.0 227.91 L87.5 227.79 L88.0 227.96 L88.5 228.42 L89.0 228.27 L89.5 228.42 L90.0 228.27 L90.5 227.98 L91.0 227.74 L91.5 228.42 L92.0 228.42 L92.5 228.14 L93.0 228.01 L93.5 228.08 L94.0 228.29 L94.5 228.04 L95.0 228.05 L95.5 228.34 L96.0 227.81 L96.5 228.42 L97.0 228.14 L97.5 228.15 L98.0 228.04 L98.5 227.88 L99.0 228.27 L99.5 228.16 L100.0 227.93 L100.5 227.55 L101.0 228.22 L101.5 227.72 L102.0 227.82 L102.5 228.15 L103.0 227.57 L103.5 228.07 L104.0 227.63 L104.5 227.50 L105.0 226.63 L105.5 227.81 L106.0 227.08 L106.5 227.20 L107.0 227.30 L107.5 227.35 L108.0 226.53 L108.5 227.39 L109.0 226.75 L109.5 227.18 L110.0 226.78 L110.5 226.70 L111.0 227.75 L111.5 227.47 L112.0 227.08 L112.5 226.99 L113.0 227.65 L113.5 226.82 L114.0 226.57 L114.5 227.02 L115.0 226.91 L115.5 227.52 L116.0 226.46 L116.5 226.11 L117.0 225.68 L117.5 226.88 L118.0 226.14 L118.5 227.29 L119.0 226.94 L119.5 227.17 L120.0 227.96 L120.5 227.68 L121.0 227.52 L121.5 227.62 L122.0 227.89 L122.5 227.84 L123.0 227.62 L123.5 227.64 L124.0 228.42 L124.5 228.25 L125.0 228.10 L125.5 228.42 L126.0 227.97 L126.5 227.71 L127.0 228.42 L127.5 228.42 L128.0 228.24 L128.5 227.65 L129.0 227.20 L129.5 227.92 L130.0 228.03 L130.5 228.30 L131.0 227.79 L131.5 228.26 L132.0 227.96 L132.5 227.64 L133.0 227.95 L133.5 228.31 L134.0 227.85 L134.5 227.58 L135.0 227.55 L135.5 228.42 L136.0 227.79 L136.5 227.77 L137.0 228.02 L137.5 228.30 L138.0 228.16 L138.5 228.19 L139.0 227.16 L139.5 227.79 L140.0 227.96 L140.5 227.72 L141.0 227.36 L141.5 227.86 L142.0 227.53 L142.5 227.58 L143.0 227.98 L143.5 227.25 L144.0 227.69 L144.5 227.38 L145.0 227.28 L145.5 227.93 L146.0 228.06 L146.5 227.98 L147.0 226.95 L147.5 227.73 L148.0 227.87 L148.5 227.15 L149.0 227.98 L149.5 227.01 L150.0 227.96 L150.5 227.57 L151.0 227.66 L151.5 227.56 L152.0 227.33 L152.5 227.39 L153.0 228.12 L153.5 228.06 L154.0 227.69 L154.5 227.36 L155.0 227.79 L155.5 227.87 L156.0 228.35 L156.5 227.43 L157.0 227.55 L157.5 228.01 L158.0 227.74 L158.5 227.04 L159.0 227.83 L159.5 227.87 L160.0 227.30 L160.5 228.28 L161.0 227.67 L161.5 227.59 L162.0 227.78 L162.5 227.60 L163.0 227.54 L163.5 227.31 L164.0 227.43 L164.5 227.02 L165.0 226.93 L165.5 227.25 L166.0 227.33 L166.5 228.15 L167.0 226.71 L167.5 227.01 L168.0 226.99 L168.5 226.58 L169.0 227.30 L169.5 227.30 L170.0 226.65 L170.5 228.42 L171.0 226.51 L171.5 226.76 L172.0 227.46 L172.5 227.21 L173.0 226.28 L173.5 227.10 L174.0 226.33 L174.5 226.51 L175.0 226.63 L175.5 226.63 L176.0 226.62 L176.5 226.70 L177.0 226.31 L177.5 225.95 L178.0 227.37 L178.5 225.56 L179.0 225.08 L179.5 226.98 L180.0 225.47 L180.5 225.95 L181.0 225.53 L181.5 225.86 L182.0 226.32 L182.5 225.28 L183.0 225.46 L183.5 225.19 L184.0 225.91 L184.5 225.35 L185.0 224.59 L185.5 225.95 L186.0 224.72 L186.5 225.77 L187.0 224.07 L187.5 223.05 L188.0 225.07 L188.5 224.08 L189.0 223.39 L189.5 224.12 L190.0 222.48 L190.5 222.44 L191.0 222.27 L191.5 220.69 L192.0 220.70 L192.5 218.20 L193.0 218.66 L193.5 218.68 L194.0 218.01 L194.5 218.51 L195.0 217.36 L195.5 216.66 L196.0 214.38 L196.5 213.34 L197.0 213.75 L197.5 211.19 L198.0 210.42 L198.5 209.84 L199.0 207.32 L199.5 206.94 L200.0 206.07 L200.5 204.52 L201.0 202.21 L201.5 202.75 L202.0 200.49 L202.5 198.02 L203.0 196.04 L203.5 195.60 L204.0 194.81 L204.5 195.31 L205.0 190.66 L205.5 191.87 L206.0 190.87 L206.5 186.68 L207.0 187.53 L207.5 186.30 L208.0 182.84 L208.5 180.56 L209.0 179.40 L209.5 181.12 L210.0 176.63 L210.5 176.36 L211.0 175.31 L211.5 172.71 L212.0 171.67 L212.5 174.43 L213.0 169.83 L213.5 171.19 L214.0 170.65 L214.5 171.40 L215.0 169.61 L215.5 168.39 L216.0 170.41 L216.5 171.78 L217.0 165.43 L217.5 167.34 L218.0 167.95 L218.5 166.57 L219.0 170.10 L219.5 169.64 L220.0 170.45 L220.5 168.77 L221.0 163.72 L221.5 166.07 L222.0 169.99 L222.5 166.75 L223.0 167.85 L223.5 167.48 L224.0 171.38 L224.5 170.82 L225.0 173.25 L225.5 172.38 L226.0 172.10 L226.5 175.05 L227.0 176.31 L227.5 176.53 L228.0 180.33 L228.5 183.11 L229.0 182.15 L229.5 187.47 L230.0 184.47 L230.5 189.34 L231.0 190.22 L231.5 192.96 L232.0 190.94 L232.5 192.58 L233.0 195.66 L233.5 197.09 L234.0 197.64 L234.5 201.00 L235.0 204.61 L235.5 206.03 L236.0 207.48 L236.5 211.54 L237.0 210.95 L237.5 212.79 L238.0 213.63 L238.5 215.73 L239.0 216.01 L239.5 219.11 L240.0 219.79 L240.5 220.46 L241.0 222.24 L241.5 222.94 L242.0 224.96 L242.5 224.44 L243.0 225.21 L243.5 224.91 L244.0 225.95 L244.5 226.15 L245.0 225.85 L245.5 227.55 L246.0 227.21 L246.5 227.98 L247.0 227.85 L247.5 227.86 L248.0 228.20 L248.5 227.73 L249.0 228.28" fill="none" stroke="#1c3494" stroke-width="1.7" stroke-linejoin="round" />
<path d="M25.0 241.49 L25.5 241.89 L26.0 241.60 L26.5 241.12 L27.0 241.89 L27.5 241.43 L28.0 241.75 L28.5 241.17 L29.0 241.71 L29.5 241.75 L30.0 241.14 L30.5 241.24 L31.0 241.68 L31.5 241.89 L32.0 241.89 L32.5 241.46 L33.0 241.46 L33.5 241.89 L34.0 241.25 L34.5 241.44 L35.0 241.72 L35.5 241.62 L36.0 241.53 L36.5 241.74 L37.0 241.40 L37.5 241.63 L38.0 241.63 L38.5 241.34 L39.0 241.46 L39.5 241.89 L40.0 241.58 L40.5 241.87 L41.0 241.54 L41.5 241.47 L42.0 241.89 L42.5 241.32 L43.0 241.10 L43.5 241.48 L44.0 241.89 L44.5 241.63 L45.0 241.50 L45.5 241.45 L46.0 241.44 L46.5 241.78 L47.0 241.72 L47.5 241.39 L48.0 240.79 L48.5 241.51 L49.0 241.58 L49.5 241.41 L50.0 241.12 L50.5 241.56 L51.0 241.89 L51.5 241.72 L52.0 241.77 L52.5 241.87 L53.0 241.89 L53.5 241.85 L54.0 240.91 L54.5 241.39 L55.0 241.53 L55.5 241.89 L56.0 241.71 L56.5 241.50 L57.0 241.64 L57.5 241.64 L58.0 241.15 L58.5 241.22 L59.0 241.45 L59.5 241.89 L60.0 241.57 L60.5 241.89 L61.0 241.79 L61.5 241.65 L62.0 241.51 L62.5 241.34 L63.0 241.89 L63.5 241.41 L64.0 241.77 L64.5 241.62 L65.0 241.85 L65.5 241.18 L66.0 241.61 L66.5 241.38 L67.0 241.83 L67.5 241.33 L68.0 241.55 L68.5 241.83 L69.0 241.66 L69.5 241.77 L70.0 241.83 L70.5 241.24 L71.0 241.54 L71.5 241.72 L72.0 241.89 L72.5 241.34 L73.0 241.64 L73.5 241.71 L74.0 241.84 L74.5 241.21 L75.0 241.31 L75.5 241.72 L76.0 241.76 L76.5 241.73 L77.0 241.67 L77.5 241.63 L78.0 241.89 L78.5 241.81 L79.0 241.63 L79.5 241.34 L80.0 241.48 L80.5 241.58 L81.0 241.85 L81.5 241.52 L82.0 241.41 L82.5 241.37 L83.0 241.27 L83.5 241.71 L84.0 241.78 L84.5 241.33 L85.0 241.75 L85.5 241.46 L86.0 241.61 L86.5 241.89 L87.0 241.62 L87.5 241.68 L88.0 241.72 L88.5 241.75 L89.0 241.89 L89.5 241.79 L90.0 241.77 L90.5 241.37 L91.0 241.70 L91.5 241.57 L92.0 241.18 L92.5 241.89 L93.0 241.35 L93.5 241.57 L94.0 241.73 L94.5 241.89 L95.0 241.34 L95.5 241.53 L96.0 241.71 L96.5 241.89 L97.0 241.33 L97.5 241.19 L98.0 241.85 L98.5 241.62 L99.0 241.51 L99.5 241.36 L100.0 241.70 L100.5 241.04 L101.0 241.60 L101.5 241.68 L102.0 241.81 L102.5 241.89 L103.0 241.40 L103.5 241.57 L104.0 241.80 L104.5 241.86 L105.0 241.33 L105.5 241.28 L106.0 241.42 L106.5 241.54 L107.0 241.73 L107.5 241.24 L108.0 241.09 L108.5 241.34 L109.0 241.36 L109.5 240.44 L110.0 241.15 L110.5 240.28 L111.0 239.10 L111.5 239.82 L112.0 239.98 L112.5 241.22 L113.0 240.96 L113.5 240.93 L114.0 240.32 L114.5 241.62 L115.0 240.34 L115.5 241.21 L116.0 241.35 L116.5 241.14 L117.0 241.78 L117.5 241.20 L118.0 240.86 L118.5 241.89 L119.0 241.77 L119.5 241.89 L120.0 241.49 L120.5 241.51 L121.0 241.01 L121.5 241.87 L122.0 241.20 L122.5 241.68 L123.0 241.40 L123.5 241.57 L124.0 241.33 L124.5 241.79 L125.0 241.21 L125.5 241.29 L126.0 241.89 L126.5 241.65 L127.0 241.45 L127.5 241.89 L128.0 241.89 L128.5 241.74 L129.0 241.42 L129.5 241.36 L130.0 241.80 L130.5 241.32 L131.0 241.89 L131.5 240.76 L132.0 241.59 L132.5 240.96 L133.0 241.57 L133.5 241.54 L134.0 241.26 L134.5 241.29 L135.0 241.89 L135.5 241.58 L136.0 241.44 L136.5 241.52 L137.0 241.51 L137.5 241.55 L138.0 241.52 L138.5 241.20 L139.0 241.41 L139.5 241.46 L140.0 241.65 L140.5 240.94 L141.0 241.46 L141.5 240.81 L142.0 241.44 L142.5 241.69 L143.0 241.42 L143.5 241.45 L144.0 241.44 L144.5 241.36 L145.0 241.37 L145.5 240.89 L146.0 241.63 L146.5 241.68 L147.0 241.67 L147.5 240.86 L148.0 241.38 L148.5 241.23 L149.0 240.79 L149.5 241.24 L150.0 241.77 L150.5 241.12 L151.0 240.88 L151.5 240.48 L152.0 240.71 L152.5 241.21 L153.0 241.19 L153.5 241.20 L154.0 241.39 L154.5 240.70 L155.0 241.32 L155.5 241.38 L156.0 241.70 L156.5 241.83 L157.0 241.33 L157.5 241.01 L158.0 241.58 L158.5 241.41 L159.0 241.71 L159.5 241.62 L160.0 241.54 L160.5 240.84 L161.0 240.34 L161.5 240.73 L162.0 241.08 L162.5 241.41 L163.0 240.73 L163.5 241.53 L164.0 241.69 L164.5 240.70 L165.0 241.67 L165.5 240.75 L166.0 241.16 L166.5 240.79 L167.0 241.78 L167.5 240.92 L168.0 240.93 L168.5 240.86 L169.0 241.64 L169.5 241.24 L170.0 241.67 L170.5 240.31 L171.0 240.83 L171.5 240.72 L172.0 240.03 L172.5 240.52 L173.0 240.08 L173.5 240.17 L174.0 239.47 L174.5 240.83 L175.0 238.89 L175.5 239.25 L176.0 239.72 L176.5 238.32 L177.0 237.56 L177.5 239.07 L178.0 238.44 L178.5 238.26 L179.0 237.75 L179.5 238.90 L180.0 237.88 L180.5 238.21 L181.0 237.45 L181.5 238.15 L182.0 237.79 L182.5 237.77 L183.0 237.68 L183.5 237.20 L184.0 237.05 L184.5 237.84 L185.0 237.13 L185.5 236.57 L186.0 235.60 L186.5 234.76 L187.0 235.53 L187.5 234.66 L188.0 233.44 L188.5 233.48 L189.0 233.79 L189.5 233.27 L190.0 233.34 L190.5 230.61 L191.0 231.10 L191.5 231.20 L192.0 230.54 L192.5 228.59 L193.0 228.29 L193.5 227.67 L194.0 227.09 L194.5 227.91 L195.0 227.42 L195.5 226.03 L196.0 226.36 L196.5 225.25 L197.0 225.42 L197.5 224.87 L198.0 223.25 L198.5 224.52 L199.0 223.95 L199.5 221.17 L200.0 223.59 L200.5 221.06 L201.0 220.49 L201.5 220.00 L202.0 216.66 L202.5 218.26 L203.0 218.97 L203.5 213.96 L204.0 211.61 L204.5 214.63 L205.0 210.84 L205.5 209.74 L206.0 208.05 L206.5 205.71 L207.0 204.79 L207.5 203.00 L208.0 204.24 L208.5 202.15 L209.0 197.55 L209.5 196.83 L210.0 194.94 L210.5 192.96 L211.0 195.15 L211.5 193.99 L212.0 191.42 L212.5 187.99 L213.0 187.69 L213.5 188.85 L214.0 186.51 L214.5 185.26 L215.0 185.05 L215.5 184.11 L216.0 181.43 L216.5 183.34 L217.0 182.73 L217.5 183.83 L218.0 179.90 L218.5 181.99 L219.0 183.03 L219.5 182.80 L220.0 181.53 L220.5 184.49 L221.0 181.65 L221.5 186.03 L222.0 186.52 L222.5 186.24 L223.0 188.02 L223.5 185.47 L224.0 187.29 L224.5 187.29 L225.0 186.48 L225.5 191.25 L226.0 189.52 L226.5 192.46 L227.0 191.63 L227.5 192.56 L228.0 195.87 L228.5 195.93 L229.0 199.00 L229.5 198.20 L230.0 203.15 L230.5 203.57 L231.0 207.50 L231.5 208.10 L232.0 208.09 L232.5 209.62 L233.0 211.51 L233.5 210.60 L234.0 214.82 L234.5 218.92 L235.0 219.39 L235.5 220.45 L236.0 223.91 L236.5 226.02 L237.0 225.17 L237.5 227.89 L238.0 231.26 L238.5 231.17 L239.0 232.14 L239.5 233.44 L240.0 234.79 L240.5 236.03 L241.0 237.70 L241.5 238.44 L242.0 238.80 L242.5 239.76 L243.0 239.57 L243.5 240.91 L244.0 240.75 L244.5 240.81 L245.0 240.96 L245.5 241.09 L246.0 241.36 L246.5 241.47 L247.0 241.83 L247.5 241.58 L248.0 241.31 L248.5 241.02 L249.0 241.87" fill="none" stroke="#ec6c1c" stroke-width="1.7" stroke-linejoin="round" />
<path d="M25.0 254.26 L25.5 255.04 L26.0 254.48 L26.5 255.36 L27.0 254.84 L27.5 254.72 L28.0 255.36 L28.5 255.10 L29.0 254.81 L29.5 254.26 L30.0 255.11 L30.5 254.72 L31.0 255.18 L31.5 254.68 L32.0 254.20 L32.5 254.50 L33.0 255.36 L33.5 255.35 L34.0 255.36 L34.5 255.12 L35.0 255.36 L35.5 254.25 L36.0 254.86 L36.5 254.14 L37.0 254.91 L37.5 254.85 L38.0 254.94 L38.5 254.78 L39.0 254.73 L39.5 254.76 L40.0 255.08 L40.5 255.27 L41.0 254.81 L41.5 254.54 L42.0 254.65 L42.5 255.23 L43.0 254.49 L43.5 255.00 L44.0 255.36 L44.5 254.83 L45.0 255.35 L45.5 254.38 L46.0 254.75 L46.5 255.12 L47.0 255.01 L47.5 254.83 L48.0 254.99 L48.5 255.10 L49.0 254.10 L49.5 254.96 L50.0 255.01 L50.5 255.36 L51.0 254.58 L51.5 254.63 L52.0 254.53 L52.5 255.10 L53.0 254.20 L53.5 255.12 L54.0 255.14 L54.5 254.79 L55.0 254.80 L55.5 254.45 L56.0 253.73 L56.5 254.60 L57.0 254.11 L57.5 254.39 L58.0 254.90 L58.5 255.30 L59.0 254.76 L59.5 255.15 L60.0 255.00 L60.5 254.60 L61.0 254.86 L61.5 254.34 L62.0 255.36 L62.5 255.15 L63.0 253.65 L63.5 254.31 L64.0 254.54 L64.5 254.38 L65.0 255.17 L65.5 255.11 L66.0 254.31 L66.5 255.36 L67.0 254.43 L67.5 255.36 L68.0 254.12 L68.5 254.43 L69.0 254.70 L69.5 254.47 L70.0 254.51 L70.5 254.99 L71.0 255.16 L71.5 254.72 L72.0 254.41 L72.5 254.99 L73.0 254.53 L73.5 253.82 L74.0 254.63 L74.5 254.64 L75.0 255.23 L75.5 253.96 L76.0 254.63 L76.5 254.71 L77.0 255.05 L77.5 254.10 L78.0 254.52 L78.5 254.37 L79.0 254.63 L79.5 254.99 L80.0 254.40 L80.5 254.34 L81.0 254.82 L81.5 254.83 L82.0 254.54 L82.5 254.67 L83.0 253.88 L83.5 253.58 L84.0 254.63 L84.5 254.77 L85.0 254.04 L85.5 254.28 L86.0 254.40 L86.5 254.47 L87.0 254.08 L87.5 254.31 L88.0 254.30 L88.5 254.14 L89.0 255.36 L89.5 254.33 L90.0 254.33 L90.5 254.47 L91.0 254.67 L91.5 255.11 L92.0 255.31 L92.5 254.54 L93.0 255.08 L93.5 253.78 L94.0 254.14 L94.5 254.46 L95.0 253.91 L95.5 254.21 L96.0 254.46 L96.5 253.71 L97.0 254.19 L97.5 254.25 L98.0 254.06 L98.5 254.09 L99.0 254.00 L99.5 254.44 L100.0 254.35 L100.5 253.97 L101.0 254.14 L101.5 254.01 L102.0 254.75 L102.5 254.32 L103.0 254.46 L103.5 254.14 L104.0 253.88 L104.5 254.34 L105.0 254.10 L105.5 254.09 L106.0 253.89 L106.5 254.08 L107.0 254.20 L107.5 254.30 L108.0 254.17 L108.5 253.49 L109.0 253.39 L109.5 253.91 L110.0 254.39 L110.5 254.06 L111.0 253.78 L111.5 254.90 L112.0 254.31 L112.5 253.34 L113.0 254.09 L113.5 254.63 L114.0 254.34 L114.5 255.00 L115.0 254.30 L115.5 254.33 L116.0 254.29 L116.5 254.29 L117.0 254.28 L117.5 253.78 L118.0 254.06 L118.5 254.36 L119.0 254.16 L119.5 255.01 L120.0 254.23 L120.5 253.22 L121.0 253.48 L121.5 253.78 L122.0 254.46 L122.5 254.05 L123.0 252.99 L123.5 254.02 L124.0 254.03 L124.5 253.47 L125.0 253.22 L125.5 253.61 L126.0 253.24 L126.5 254.25 L127.0 253.25 L127.5 253.99 L128.0 253.62 L128.5 254.69 L129.0 253.68 L129.5 254.01 L130.0 253.71 L130.5 254.30 L131.0 254.63 L131.5 254.06 L132.0 253.59 L132.5 254.03 L133.0 254.18 L133.5 254.13 L134.0 253.29 L134.5 254.00 L135.0 254.51 L135.5 253.24 L136.0 253.88 L136.5 253.66 L137.0 254.60 L137.5 253.94 L138.0 253.64 L138.5 253.41 L139.0 253.56 L139.5 253.22 L140.0 253.69 L140.5 254.02 L141.0 254.52 L141.5 253.15 L142.0 253.54 L142.5 252.58 L143.0 252.84 L143.5 254.06 L144.0 253.32 L144.5 253.33 L145.0 253.27 L145.5 254.23 L146.0 253.92 L146.5 253.92 L147.0 253.17 L147.5 253.70 L148.0 254.17 L148.5 254.19 L149.0 253.83 L149.5 254.40 L150.0 254.22 L150.5 253.79 L151.0 253.27 L151.5 253.61 L152.0 253.72 L152.5 254.26 L153.0 254.18 L153.5 254.62 L154.0 253.56 L154.5 253.69 L155.0 253.97 L155.5 252.54 L156.0 253.76 L156.5 253.04 L157.0 253.62 L157.5 253.42 L158.0 254.22 L158.5 253.57 L159.0 253.24 L159.5 254.71 L160.0 252.95 L160.5 254.10 L161.0 253.74 L161.5 253.85 L162.0 253.13 L162.5 253.33 L163.0 253.93 L163.5 253.88 L164.0 253.40 L164.5 253.87 L165.0 253.93 L165.5 253.82 L166.0 253.08 L166.5 254.28 L167.0 254.27 L167.5 253.40 L168.0 253.90 L168.5 254.29 L169.0 253.26 L169.5 253.91 L170.0 254.08 L170.5 254.21 L171.0 252.86 L171.5 253.66 L172.0 252.77 L172.5 253.24 L173.0 253.90 L173.5 252.81 L174.0 253.51 L174.5 253.09 L175.0 254.15 L175.5 254.16 L176.0 253.69 L176.5 253.85 L177.0 252.93 L177.5 253.10 L178.0 253.90 L178.5 253.24 L179.0 254.63 L179.5 253.46 L180.0 253.27 L180.5 253.97 L181.0 253.96 L181.5 253.27 L182.0 253.52 L182.5 252.43 L183.0 253.70 L183.5 252.87 L184.0 252.12 L184.5 252.14 L185.0 252.44 L185.5 252.88 L186.0 252.41 L186.5 251.57 L187.0 251.56 L187.5 250.97 L188.0 250.95 L188.5 250.49 L189.0 248.70 L189.5 248.80 L190.0 250.85 L190.5 248.69 L191.0 248.05 L191.5 249.10 L192.0 248.80 L192.5 247.79 L193.0 247.20 L193.5 246.41 L194.0 246.11 L194.5 242.50 L195.0 244.27 L195.5 241.46 L196.0 240.07 L196.5 239.28 L197.0 237.25 L197.5 234.97 L198.0 235.60 L198.5 232.39 L199.0 230.80 L199.5 231.35 L200.0 232.15 L200.5 227.80 L201.0 226.17 L201.5 226.12 L202.0 224.42 L202.5 221.08 L203.0 221.87 L203.5 219.89 L204.0 219.94 L204.5 218.42 L205.0 217.20 L205.5 214.79 L206.0 213.69 L206.5 211.30 L207.0 210.08 L207.5 207.52 L208.0 205.64 L208.5 204.78 L209.0 204.03 L209.5 203.88 L210.0 202.73 L210.5 198.31 L211.0 198.01 L211.5 197.81 L212.0 197.95 L212.5 195.87 L213.0 196.35 L213.5 193.58 L214.0 195.00 L214.5 196.09 L215.0 196.14 L215.5 194.79 L216.0 190.40 L216.5 194.56 L217.0 196.53 L217.5 194.79 L218.0 193.23 L218.5 192.96 L219.0 192.97 L219.5 193.06 L220.0 194.12 L220.5 194.38 L221.0 196.39 L221.5 194.57 L222.0 195.82 L222.5 193.00 L223.0 198.69 L223.5 194.40 L224.0 198.85 L224.5 197.62 L225.0 200.42 L225.5 198.18 L226.0 200.28 L226.5 202.77 L227.0 201.86 L227.5 205.71 L228.0 208.24 L228.5 210.75 L229.0 210.73 L229.5 212.73 L230.0 216.30 L230.5 217.26 L231.0 218.01 L231.5 221.47 L232.0 219.67 L232.5 225.04 L233.0 226.03 L233.5 227.13 L234.0 226.34 L234.5 230.82 L235.0 233.88 L235.5 237.02 L236.0 237.76 L236.5 239.61 L237.0 239.53 L237.5 242.62 L238.0 244.39 L238.5 245.00 L239.0 245.87 L239.5 248.88 L240.0 249.10 L240.5 249.74 L241.0 249.94 L241.5 250.45 L242.0 251.75 L242.5 252.80 L243.0 253.78 L243.5 253.15 L244.0 254.69 L244.5 254.16 L245.0 254.02 L245.5 254.58 L246.0 255.07 L246.5 254.82 L247.0 255.17 L247.5 255.36 L248.0 255.18 L248.5 255.30 L249.0 254.32" fill="none" stroke="#2a92d8" stroke-width="1.7" stroke-linejoin="round" />
<path d="M25.0 268.30 L25.5 268.22 L26.0 268.53 L26.5 268.83 L27.0 268.31 L27.5 268.41 L28.0 268.59 L28.5 268.53 L29.0 268.58 L29.5 268.43 L30.0 268.44 L30.5 268.77 L31.0 268.49 L31.5 268.70 L32.0 268.83 L32.5 268.53 L33.0 268.23 L33.5 268.39 L34.0 268.38 L34.5 268.08 L35.0 268.31 L35.5 268.45 L36.0 268.53 L36.5 268.05 L37.0 268.61 L37.5 268.59 L38.0 268.24 L38.5 268.17 L39.0 268.77 L39.5 268.25 L40.0 268.47 L40.5 268.40 L41.0 268.53 L41.5 268.46 L42.0 268.04 L42.5 268.26 L43.0 268.62 L43.5 268.54 L44.0 268.75 L44.5 268.83 L45.0 268.62 L45.5 268.19 L46.0 268.25 L46.5 268.70 L47.0 267.72 L47.5 268.13 L48.0 268.61 L48.5 268.40 L49.0 268.38 L49.5 268.51 L50.0 267.95 L50.5 267.88 L51.0 268.41 L51.5 268.26 L52.0 268.28 L52.5 268.49 L53.0 268.76 L53.5 268.80 L54.0 268.31 L54.5 268.36 L55.0 268.40 L55.5 268.37 L56.0 268.33 L56.5 268.52 L57.0 268.83 L57.5 268.83 L58.0 268.08 L58.5 268.40 L59.0 268.83 L59.5 268.66 L60.0 268.28 L60.5 267.94 L61.0 268.05 L61.5 268.28 L62.0 268.29 L62.5 268.75 L63.0 268.34 L63.5 268.58 L64.0 268.38 L64.5 268.83 L65.0 268.26 L65.5 268.57 L66.0 268.14 L66.5 268.83 L67.0 268.21 L67.5 268.36 L68.0 268.62 L68.5 268.31 L69.0 268.67 L69.5 268.02 L70.0 268.83 L70.5 267.58 L71.0 268.73 L71.5 268.83 L72.0 268.83 L72.5 268.29 L73.0 268.55 L73.5 268.78 L74.0 268.78 L74.5 268.83 L75.0 268.27 L75.5 268.32 L76.0 268.32 L76.5 268.83 L77.0 268.31 L77.5 268.64 L78.0 268.44 L78.5 268.70 L79.0 268.27 L79.5 268.02 L80.0 268.44 L80.5 268.30 L81.0 268.42 L81.5 268.73 L82.0 268.30 L82.5 268.68 L83.0 268.35 L83.5 268.14 L84.0 267.89 L84.5 268.64 L85.0 268.03 L85.5 267.78 L86.0 268.26 L86.5 268.22 L87.0 268.13 L87.5 268.12 L88.0 268.37 L88.5 268.12 L89.0 268.83 L89.5 268.74 L90.0 268.36 L90.5 267.96 L91.0 268.72 L91.5 268.74 L92.0 268.60 L92.5 268.09 L93.0 268.66 L93.5 268.09 L94.0 267.69 L94.5 268.20 L95.0 267.81 L95.5 267.97 L96.0 267.70 L96.5 268.44 L97.0 268.57 L97.5 267.94 L98.0 267.67 L98.5 268.45 L99.0 268.01 L99.5 268.58 L100.0 268.37 L100.5 268.83 L101.0 268.41 L101.5 268.60 L102.0 267.81 L102.5 268.28 L103.0 267.86 L103.5 267.61 L104.0 268.83 L104.5 267.62 L105.0 268.19 L105.5 268.12 L106.0 268.41 L106.5 268.83 L107.0 268.63 L107.5 268.37 L108.0 268.77 L108.5 268.23 L109.0 267.99 L109.5 268.57 L110.0 268.43 L110.5 267.91 L111.0 268.76 L111.5 268.01 L112.0 268.82 L112.5 267.85 L113.0 268.26 L113.5 268.46 L114.0 268.30 L114.5 267.56 L115.0 268.71 L115.5 268.67 L116.0 267.88 L116.5 267.89 L117.0 268.31 L117.5 267.94 L118.0 268.24 L118.5 267.97 L119.0 268.21 L119.5 268.13 L120.0 268.13 L120.5 268.38 L121.0 268.20 L121.5 268.01 L122.0 268.15 L122.5 268.65 L123.0 268.09 L123.5 267.35 L124.0 267.86 L124.5 268.01 L125.0 268.29 L125.5 268.72 L126.0 268.31 L126.5 268.60 L127.0 268.11 L127.5 268.83 L128.0 268.19 L128.5 268.46 L129.0 268.15 L129.5 268.37 L130.0 267.98 L130.5 268.83 L131.0 268.35 L131.5 268.12 L132.0 267.75 L132.5 268.29 L133.0 268.43 L133.5 268.36 L134.0 268.04 L134.5 268.24 L135.0 268.63 L135.5 268.46 L136.0 268.60 L136.5 268.33 L137.0 268.27 L137.5 267.83 L138.0 268.15 L138.5 268.58 L139.0 268.25 L139.5 268.51 L140.0 268.37 L140.5 268.30 L141.0 268.17 L141.5 268.32 L142.0 268.07 L142.5 267.75 L143.0 267.68 L143.5 267.48 L144.0 268.32 L144.5 268.40 L145.0 268.36 L145.5 268.00 L146.0 268.34 L146.5 268.19 L147.0 268.67 L147.5 268.29 L148.0 267.66 L148.5 268.67 L149.0 268.45 L149.5 268.24 L150.0 267.94 L150.5 268.41 L151.0 267.77 L151.5 267.64 L152.0 267.60 L152.5 267.94 L153.0 268.12 L153.5 268.48 L154.0 268.13 L154.5 268.03 L155.0 268.83 L155.5 268.05 L156.0 268.01 L156.5 267.88 L157.0 267.23 L157.5 268.00 L158.0 267.93 L158.5 267.73 L159.0 268.13 L159.5 268.02 L160.0 268.77 L160.5 268.50 L161.0 268.26 L161.5 268.80 L162.0 267.75 L162.5 267.87 L163.0 267.85 L163.5 268.11 L164.0 268.83 L164.5 267.79 L165.0 268.11 L165.5 267.34 L166.0 267.74 L166.5 268.63 L167.0 268.80 L167.5 268.17 L168.0 268.12 L168.5 268.02 L169.0 267.37 L169.5 267.31 L170.0 267.70 L170.5 267.79 L171.0 267.99 L171.5 267.59 L172.0 268.61 L172.5 267.42 L173.0 267.75 L173.5 266.96 L174.0 268.52 L174.5 267.24 L175.0 267.34 L175.5 267.58 L176.0 266.78 L176.5 267.95 L177.0 268.04 L177.5 267.75 L178.0 266.97 L178.5 266.96 L179.0 267.97 L179.5 267.10 L180.0 266.02 L180.5 267.62 L181.0 267.59 L181.5 267.18 L182.0 266.68 L182.5 267.22 L183.0 266.26 L183.5 266.15 L184.0 265.93 L184.5 267.03 L185.0 265.73 L185.5 265.66 L186.0 264.53 L186.5 266.51 L187.0 263.08 L187.5 262.61 L188.0 263.91 L188.5 262.16 L189.0 263.13 L189.5 262.87 L190.0 260.72 L190.5 260.00 L191.0 260.58 L191.5 258.92 L192.0 260.03 L192.5 257.99 L193.0 258.22 L193.5 256.80 L194.0 256.45 L194.5 256.84 L195.0 256.56 L195.5 254.88 L196.0 253.76 L196.5 251.99 L197.0 253.06 L197.5 251.43 L198.0 250.73 L198.5 246.88 L199.0 248.76 L199.5 245.66 L200.0 242.62 L200.5 241.29 L201.0 240.69 L201.5 238.00 L202.0 235.38 L202.5 235.03 L203.0 232.78 L203.5 232.10 L204.0 227.14 L204.5 229.04 L205.0 227.23 L205.5 227.41 L206.0 226.71 L206.5 224.82 L207.0 221.61 L207.5 221.96 L208.0 219.76 L208.5 220.64 L209.0 220.51 L209.5 216.24 L210.0 216.37 L210.5 214.82 L211.0 213.03 L211.5 211.59 L212.0 210.97 L212.5 210.94 L213.0 212.17 L213.5 209.60 L214.0 211.11 L214.5 209.32 L215.0 210.04 L215.5 211.23 L216.0 207.99 L216.5 205.47 L217.0 207.68 L217.5 209.38 L218.0 209.82 L218.5 207.34 L219.0 209.98 L219.5 211.31 L220.0 209.33 L220.5 209.65 L221.0 209.93 L221.5 209.83 L222.0 212.81 L222.5 211.94 L223.0 211.58 L223.5 212.81 L224.0 212.23 L224.5 216.34 L225.0 217.67 L225.5 219.66 L226.0 218.59 L226.5 221.39 L227.0 222.13 L227.5 225.47 L228.0 225.78 L228.5 227.08 L229.0 228.90 L229.5 232.49 L230.0 233.93 L230.5 237.21 L231.0 237.29 L231.5 242.56 L232.0 243.33 L232.5 247.34 L233.0 250.14 L233.5 250.30 L234.0 248.90 L234.5 249.70 L235.0 252.35 L235.5 253.60 L236.0 255.59 L236.5 254.13 L237.0 255.23 L237.5 256.07 L238.0 256.44 L238.5 257.64 L239.0 256.09 L239.5 260.22 L240.0 260.04 L240.5 261.59 L241.0 262.47 L241.5 263.70 L242.0 265.02 L242.5 266.35 L243.0 266.37 L243.5 267.32 L244.0 267.76 L244.5 267.99 L245.0 268.54 L245.5 268.23 L246.0 268.32 L246.5 267.78 L247.0 268.02 L247.5 268.76 L248.0 268.23 L248.5 268.83 L249.0 268.83" fill="none" stroke="#dc3290" stroke-width="1.7" stroke-linejoin="round" />
<path d="M25.0 281.93 L25.5 281.96 L26.0 281.65 L26.5 282.00 L27.0 282.30 L27.5 281.99 L28.0 281.83 L28.5 281.63 L29.0 281.43 L29.5 282.30 L30.0 282.14 L30.5 282.02 L31.0 281.70 L31.5 282.02 L32.0 282.14 L32.5 282.03 L33.0 282.30 L33.5 282.14 L34.0 281.83 L34.5 281.97 L35.0 282.30 L35.5 282.30 L36.0 281.55 L36.5 281.52 L37.0 281.97 L37.5 282.00 L38.0 281.68 L38.5 281.65 L39.0 281.52 L39.5 281.37 L40.0 281.84 L40.5 282.30 L41.0 281.70 L41.5 282.01 L42.0 282.30 L42.5 281.67 L43.0 281.36 L43.5 282.07 L44.0 281.72 L44.5 281.57 L45.0 281.78 L45.5 281.69 L46.0 281.98 L46.5 281.96 L47.0 281.90 L47.5 281.74 L48.0 281.84 L48.5 282.19 L49.0 282.10 L49.5 281.78 L50.0 281.82 L50.5 281.98 L51.0 281.72 L51.5 282.01 L52.0 281.29 L52.5 281.86 L53.0 280.91 L53.5 281.65 L54.0 282.24 L54.5 281.53 L55.0 281.96 L55.5 281.97 L56.0 281.87 L56.5 281.23 L57.0 281.81 L57.5 282.14 L58.0 282.30 L58.5 282.09 L59.0 281.89 L59.5 282.01 L60.0 281.80 L60.5 282.01 L61.0 281.82 L61.5 282.30 L62.0 281.25 L62.5 282.29 L63.0 281.87 L63.5 281.86 L64.0 281.75 L64.5 281.55 L65.0 281.76 L65.5 281.38 L66.0 282.28 L66.5 281.27 L67.0 281.84 L67.5 281.29 L68.0 281.62 L68.5 281.48 L69.0 281.49 L69.5 281.14 L70.0 282.16 L70.5 281.76 L71.0 281.45 L71.5 281.78 L72.0 281.02 L72.5 282.04 L73.0 281.09 L73.5 281.92 L74.0 282.30 L74.5 281.37 L75.0 282.30 L75.5 281.74 L76.0 281.26 L76.5 281.31 L77.0 281.47 L77.5 281.84 L78.0 281.70 L78.5 282.23 L79.0 281.95 L79.5 282.02 L80.0 282.02 L80.5 281.39 L81.0 281.89 L81.5 281.99 L82.0 282.03 L82.5 281.35 L83.0 281.83 L83.5 281.69 L84.0 281.70 L84.5 281.86 L85.0 281.51 L85.5 281.60 L86.0 282.04 L86.5 281.99 L87.0 282.08 L87.5 281.79 L88.0 281.03 L88.5 281.89 L89.0 281.40 L89.5 282.18 L90.0 281.71 L90.5 281.44 L91.0 281.76 L91.5 281.69 L92.0 281.19 L92.5 282.27 L93.0 281.57 L93.5 281.28 L94.0 281.23 L94.5 281.94 L95.0 282.11 L95.5 281.69 L96.0 281.94 L96.5 281.98 L97.0 282.04 L97.5 282.30 L98.0 281.28 L98.5 281.19 L99.0 281.14 L99.5 281.54 L100.0 281.91 L100.5 281.94 L101.0 281.48 L101.5 281.71 L102.0 281.11 L102.5 281.75 L103.0 281.55 L103.5 281.00 L104.0 281.82 L104.5 282.11 L105.0 281.95 L105.5 281.11 L106.0 281.29 L106.5 282.05 L107.0 281.36 L107.5 281.68 L108.0 281.02 L108.5 281.53 L109.0 281.61 L109.5 281.62 L110.0 281.34 L110.5 280.78 L111.0 281.80 L111.5 281.03 L112.0 281.86 L112.5 281.45 L113.0 281.95 L113.5 281.34 L114.0 282.13 L114.5 280.95 L115.0 281.34 L115.5 281.92 L116.0 281.74 L116.5 282.08 L117.0 281.22 L117.5 281.71 L118.0 281.18 L118.5 282.20 L119.0 281.24 L119.5 281.60 L120.0 280.80 L120.5 281.37 L121.0 281.18 L121.5 280.96 L122.0 281.05 L122.5 281.82 L123.0 281.20 L123.5 281.19 L124.0 281.32 L124.5 282.15 L125.0 281.47 L125.5 281.66 L126.0 281.16 L126.5 281.65 L127.0 281.58 L127.5 281.45 L128.0 281.39 L128.5 281.53 L129.0 282.09 L129.5 282.01 L130.0 281.23 L130.5 281.30 L131.0 281.58 L131.5 280.79 L132.0 281.81 L132.5 280.95 L133.0 281.95 L133.5 281.77 L134.0 281.27 L134.5 281.34 L135.0 280.84 L135.5 281.54 L136.0 281.74 L136.5 280.93 L137.0 280.85 L137.5 281.91 L138.0 282.30 L138.5 282.15 L139.0 280.92 L139.5 282.10 L140.0 281.14 L140.5 281.33 L141.0 281.49 L141.5 280.76 L142.0 281.47 L142.5 280.19 L143.0 280.87 L143.5 281.12 L144.0 281.92 L144.5 281.69 L145.0 281.29 L145.5 281.74 L146.0 281.89 L146.5 281.62 L147.0 281.44 L147.5 281.23 L148.0 281.51 L148.5 281.22 L149.0 281.54 L149.5 280.66 L150.0 281.15 L150.5 281.24 L151.0 281.65 L151.5 281.71 L152.0 281.66 L152.5 281.42 L153.0 282.30 L153.5 281.93 L154.0 281.60 L154.5 281.58 L155.0 281.84 L155.5 281.35 L156.0 280.69 L156.5 281.64 L157.0 280.91 L157.5 281.76 L158.0 281.43 L158.5 280.71 L159.0 280.80 L159.5 281.20 L160.0 281.32 L160.5 280.25 L161.0 282.14 L161.5 280.74 L162.0 281.58 L162.5 282.07 L163.0 280.65 L163.5 281.61 L164.0 281.05 L164.5 281.52 L165.0 280.84 L165.5 281.19 L166.0 280.59 L166.5 281.46 L167.0 281.48 L167.5 282.00 L168.0 280.74 L168.5 281.06 L169.0 281.28 L169.5 281.44 L170.0 280.99 L170.5 281.27 L171.0 281.19 L171.5 281.34 L172.0 280.24 L172.5 281.27 L173.0 281.40 L173.5 281.87 L174.0 280.75 L174.5 280.86 L175.0 280.95 L175.5 280.75 L176.0 280.66 L176.5 281.51 L177.0 281.73 L177.5 281.86 L178.0 280.44 L178.5 281.25 L179.0 280.50 L179.5 280.98 L180.0 281.59 L180.5 280.00 L181.0 281.08 L181.5 281.03 L182.0 281.44 L182.5 281.00 L183.0 281.66 L183.5 282.05 L184.0 281.47 L184.5 280.96 L185.0 280.68 L185.5 280.93 L186.0 280.36 L186.5 279.17 L187.0 279.95 L187.5 279.50 L188.0 278.01 L188.5 278.42 L189.0 277.77 L189.5 277.51 L190.0 278.02 L190.5 277.28 L191.0 276.63 L191.5 276.78 L192.0 276.20 L192.5 276.29 L193.0 276.84 L193.5 275.81 L194.0 274.85 L194.5 274.72 L195.0 273.56 L195.5 271.70 L196.0 271.49 L196.5 270.73 L197.0 268.56 L197.5 266.46 L198.0 266.78 L198.5 264.96 L199.0 266.16 L199.5 262.15 L200.0 262.16 L200.5 262.35 L201.0 258.83 L201.5 260.72 L202.0 255.49 L202.5 258.31 L203.0 256.14 L203.5 255.10 L204.0 254.90 L204.5 253.69 L205.0 248.97 L205.5 248.04 L206.0 248.24 L206.5 247.27 L207.0 247.37 L207.5 240.70 L208.0 244.69 L208.5 240.48 L209.0 240.87 L209.5 237.70 L210.0 236.64 L210.5 234.15 L211.0 234.24 L211.5 230.16 L212.0 233.04 L212.5 230.26 L213.0 229.64 L213.5 227.55 L214.0 226.08 L214.5 225.03 L215.0 226.48 L215.5 223.63 L216.0 223.17 L216.5 225.76 L217.0 221.48 L217.5 220.63 L218.0 223.67 L218.5 226.92 L219.0 220.90 L219.5 223.59 L220.0 219.80 L220.5 221.65 L221.0 219.62 L221.5 218.58 L222.0 219.51 L222.5 223.02 L223.0 219.21 L223.5 222.54 L224.0 224.49 L224.5 224.68 L225.0 227.76 L225.5 223.73 L226.0 229.55 L226.5 229.95 L227.0 231.76 L227.5 230.00 L228.0 233.12 L228.5 233.26 L229.0 235.47 L229.5 238.00 L230.0 236.26 L230.5 237.24 L231.0 239.69 L231.5 240.85 L232.0 245.18 L232.5 244.67 L233.0 246.81 L233.5 250.70 L234.0 253.14 L234.5 251.95 L235.0 252.36 L235.5 254.63 L236.0 255.36 L236.5 257.16 L237.0 260.30 L237.5 260.77 L238.0 261.25 L238.5 265.15 L239.0 265.33 L239.5 267.67 L240.0 267.32 L240.5 269.30 L241.0 270.64 L241.5 271.27 L242.0 273.58 L242.5 274.18 L243.0 275.81 L243.5 278.17 L244.0 277.46 L244.5 277.61 L245.0 279.06 L245.5 279.28 L246.0 279.54 L246.5 280.86 L247.0 280.34 L247.5 281.14 L248.0 281.87 L248.5 280.77 L249.0 281.96" fill="none" stroke="#62ba2c" stroke-width="1.7" stroke-linejoin="round" />
<path d="M25.0 295.55 L25.5 295.69 L26.0 295.44 L26.5 295.64 L27.0 295.43 L27.5 294.83 L28.0 295.35 L28.5 295.27 L29.0 295.68 L29.5 295.71 L30.0 295.26 L30.5 295.72 L31.0 295.72 L31.5 295.36 L32.0 295.59 L32.5 295.31 L33.0 295.71 L33.5 295.24 L34.0 295.77 L34.5 295.71 L35.0 295.77 L35.5 295.42 L36.0 295.77 L36.5 295.21 L37.0 295.73 L37.5 295.22 L38.0 295.48 L38.5 295.20 L39.0 295.17 L39.5 295.63 L40.0 295.43 L40.5 295.27 L41.0 295.43 L41.5 295.13 L42.0 295.12 L42.5 295.54 L43.0 295.77 L43.5 295.48 L44.0 295.11 L44.5 295.55 L45.0 295.59 L45.5 295.57 L46.0 295.32 L46.5 295.10 L47.0 295.77 L47.5 295.28 L48.0 295.62 L48.5 295.77 L49.0 295.21 L49.5 295.54 L50.0 295.62 L50.5 295.49 L51.0 295.72 L51.5 295.30 L52.0 295.64 L52.5 294.95 L53.0 295.32 L53.5 295.57 L54.0 295.51 L54.5 295.74 L55.0 295.32 L55.5 295.30 L56.0 295.77 L56.5 295.43 L57.0 295.28 L57.5 295.23 L58.0 295.57 L58.5 295.63 L59.0 295.47 L59.5 295.27 L60.0 295.34 L60.5 295.40 L61.0 295.53 L61.5 295.68 L62.0 295.77 L62.5 295.35 L63.0 295.59 L63.5 295.39 L64.0 294.79 L64.5 295.77 L65.0 295.12 L65.5 295.70 L66.0 295.54 L66.5 295.62 L67.0 295.44 L67.5 295.31 L68.0 295.36 L68.5 294.97 L69.0 295.56 L69.5 295.17 L70.0 295.54 L70.5 295.65 L71.0 295.43 L71.5 295.77 L72.0 295.10 L72.5 295.05 L73.0 295.52 L73.5 295.77 L74.0 295.26 L74.5 295.39 L75.0 295.23 L75.5 295.63 L76.0 295.34 L76.5 295.25 L77.0 294.85 L77.5 295.62 L78.0 295.18 L78.5 295.54 L79.0 295.37 L79.5 294.98 L80.0 295.77 L80.5 295.77 L81.0 295.45 L81.5 295.51 L82.0 294.90 L82.5 295.67 L83.0 294.90 L83.5 295.45 L84.0 295.19 L84.5 295.58 L85.0 295.77 L85.5 295.50 L86.0 295.20 L86.5 295.59 L87.0 295.69 L87.5 295.20 L88.0 295.77 L88.5 295.51 L89.0 295.35 L89.5 295.73 L90.0 295.58 L90.5 295.25 L91.0 295.47 L91.5 295.77 L92.0 295.46 L92.5 295.77 L93.0 295.25 L93.5 295.20 L94.0 295.29 L94.5 295.21 L95.0 295.43 L95.5 295.77 L96.0 295.65 L96.5 295.44 L97.0 295.15 L97.5 295.45 L98.0 295.07 L98.5 295.71 L99.0 295.19 L99.5 295.77 L100.0 295.31 L100.5 295.71 L101.0 295.30 L101.5 295.53 L102.0 295.63 L102.5 295.36 L103.0 295.17 L103.5 295.32 L104.0 294.91 L104.5 295.57 L105.0 295.43 L105.5 295.65 L106.0 295.39 L106.5 295.21 L107.0 295.06 L107.5 295.45 L108.0 295.77 L108.5 295.60 L109.0 295.42 L109.5 295.40 L110.0 295.20 L110.5 295.11 L111.0 295.60 L111.5 295.75 L112.0 295.77 L112.5 295.44 L113.0 295.00 L113.5 295.45 L114.0 295.10 L114.5 295.75 L115.0 295.60 L115.5 295.52 L116.0 295.69 L116.5 295.58 L117.0 295.37 L117.5 295.47 L118.0 295.28 L118.5 295.38 L119.0 295.35 L119.5 295.73 L120.0 295.58 L120.5 295.53 L121.0 295.14 L121.5 295.52 L122.0 295.57 L122.5 295.64 L123.0 295.21 L123.5 295.55 L124.0 295.71 L124.5 295.77 L125.0 295.75 L125.5 295.21 L126.0 295.77 L126.5 295.22 L127.0 294.99 L127.5 295.53 L128.0 295.22 L128.5 294.99 L129.0 295.76 L129.5 295.48 L130.0 294.72 L130.5 295.37 L131.0 295.30 L131.5 295.12 L132.0 295.59 L132.5 295.46 L133.0 295.45 L133.5 294.75 L134.0 295.27 L134.5 295.77 L135.0 295.14 L135.5 295.48 L136.0 295.41 L136.5 295.44 L137.0 295.62 L137.5 295.20 L138.0 295.77 L138.5 295.35 L139.0 295.27 L139.5 295.27 L140.0 295.42 L140.5 295.15 L141.0 295.18 L141.5 295.38 L142.0 295.16 L142.5 295.66 L143.0 295.16 L143.5 295.18 L144.0 295.76 L144.5 295.49 L145.0 295.26 L145.5 295.77 L146.0 295.62 L146.5 295.40 L147.0 295.26 L147.5 295.00 L148.0 295.23 L148.5 295.77 L149.0 295.77 L149.5 295.77 L150.0 295.53 L150.5 295.46 L151.0 295.67 L151.5 295.65 L152.0 295.37 L152.5 295.23 L153.0 295.12 L153.5 295.65 L154.0 295.27 L154.5 295.77 L155.0 295.62 L155.5 295.39 L156.0 295.54 L156.5 295.68 L157.0 295.61 L157.5 295.53 L158.0 295.38 L158.5 295.23 L159.0 295.69 L159.5 295.63 L160.0 295.33 L160.5 295.53 L161.0 295.61 L161.5 295.52 L162.0 295.40 L162.5 295.77 L163.0 295.38 L163.5 295.77 L164.0 295.77 L164.5 295.55 L165.0 295.35 L165.5 295.54 L166.0 295.26 L166.5 295.13 L167.0 294.82 L167.5 294.20 L168.0 295.03 L168.5 295.02 L169.0 295.08 L169.5 294.33 L170.0 295.07 L170.5 294.87 L171.0 295.71 L171.5 294.47 L172.0 294.78 L172.5 294.48 L173.0 293.62 L173.5 294.10 L174.0 294.29 L174.5 294.70 L175.0 293.52 L175.5 294.31 L176.0 294.12 L176.5 293.86 L177.0 293.94 L177.5 294.20 L178.0 293.10 L178.5 292.85 L179.0 292.56 L179.5 292.21 L180.0 291.61 L180.5 291.81 L181.0 291.95 L181.5 291.67 L182.0 291.50 L182.5 290.65 L183.0 290.36 L183.5 290.27 L184.0 291.16 L184.5 289.32 L185.0 289.83 L185.5 289.93 L186.0 288.69 L186.5 288.21 L187.0 288.32 L187.5 288.65 L188.0 288.43 L188.5 287.34 L189.0 287.60 L189.5 287.64 L190.0 286.45 L190.5 285.68 L191.0 285.29 L191.5 285.26 L192.0 284.06 L192.5 283.88 L193.0 283.06 L193.5 281.33 L194.0 282.53 L194.5 282.09 L195.0 280.73 L195.5 280.24 L196.0 281.94 L196.5 281.06 L197.0 277.69 L197.5 274.98 L198.0 274.35 L198.5 270.85 L199.0 270.80 L199.5 267.93 L200.0 267.36 L200.5 265.97 L201.0 267.27 L201.5 262.76 L202.0 260.36 L202.5 257.69 L203.0 256.61 L203.5 257.07 L204.0 254.39 L204.5 252.87 L205.0 254.40 L205.5 249.08 L206.0 245.05 L206.5 242.22 L207.0 244.26 L207.5 242.54 L208.0 239.92 L208.5 238.70 L209.0 238.80 L209.5 238.48 L210.0 239.39 L210.5 240.71 L211.0 241.28 L211.5 240.83 L212.0 238.20 L212.5 239.45 L213.0 238.35 L213.5 239.16 L214.0 237.20 L214.5 238.07 L215.0 234.90 L215.5 238.77 L216.0 237.29 L216.5 235.61 L217.0 231.77 L217.5 236.95 L218.0 236.92 L218.5 234.67 L219.0 234.81 L219.5 235.21 L220.0 235.72 L220.5 234.79 L221.0 239.83 L221.5 240.51 L222.0 240.85 L222.5 240.64 L223.0 240.21 L223.5 244.30 L224.0 246.67 L224.5 245.25 L225.0 251.45 L225.5 252.14 L226.0 250.90 L226.5 255.09 L227.0 258.29 L227.5 257.36 L228.0 258.95 L228.5 258.23 L229.0 262.67 L229.5 262.89 L230.0 263.69 L230.5 268.13 L231.0 267.22 L231.5 269.89 L232.0 269.41 L232.5 273.83 L233.0 273.88 L233.5 275.06 L234.0 276.20 L234.5 277.69 L235.0 281.05 L235.5 280.96 L236.0 282.80 L236.5 284.08 L237.0 285.40 L237.5 286.37 L238.0 286.01 L238.5 287.71 L239.0 287.80 L239.5 289.84 L240.0 290.07 L240.5 292.31 L241.0 292.23 L241.5 293.40 L242.0 293.42 L242.5 293.59 L243.0 294.47 L243.5 294.76 L244.0 295.21 L244.5 294.58 L245.0 294.92 L245.5 295.48 L246.0 294.68 L246.5 295.14 L247.0 295.65 L247.5 295.16 L248.0 295.03 L248.5 295.19 L249.0 295.46" fill="none" stroke="#da1c2c" stroke-width="1.7" stroke-linejoin="round" />
<path d="M25.0 297.67 L25.5 298.49 L26.0 296.29 L26.5 294.27 L27.0 294.21 L27.5 292.24 L28.0 290.10 L28.5 290.03 L29.0 287.54 L29.5 285.45 L30.0 284.72 L30.5 282.45 L31.0 281.83 L31.5 280.27 L32.0 277.89 L32.5 277.10 L33.0 273.17 L33.5 271.18 L34.0 268.80 L34.5 263.09 L35.0 259.14 L35.5 255.90 L36.0 252.69 L36.5 248.94 L37.0 247.89 L37.5 244.77 L38.0 239.44 L38.5 236.56 L39.0 231.97 L39.5 229.54 L40.0 225.49 L40.5 226.35 L41.0 223.48 L41.5 223.93 L42.0 224.47 L42.5 224.61 L43.0 226.32 L43.5 225.06 L44.0 222.08 L44.5 222.33 L45.0 223.35 L45.5 227.56 L46.0 226.89 L46.5 230.53 L47.0 231.98 L47.5 236.02 L48.0 236.06 L48.5 240.73 L49.0 240.29 L49.5 242.75 L50.0 243.73 L50.5 245.77 L51.0 246.07 L51.5 248.78 L52.0 253.27 L52.5 255.07 L53.0 258.22 L53.5 261.00 L54.0 260.34 L54.5 263.17 L55.0 263.83 L55.5 266.05 L56.0 267.73 L56.5 268.63 L57.0 270.21 L57.5 275.15 L58.0 277.35 L58.5 279.13 L59.0 279.53 L59.5 279.68 L60.0 281.89 L60.5 283.40 L61.0 284.28 L61.5 286.41 L62.0 289.13 L62.5 291.15 L63.0 293.59 L63.5 294.78 L64.0 296.85 L64.5 296.81 L65.0 297.92 L65.5 300.38 L66.0 301.25 L66.5 301.64 L67.0 302.20 L67.5 302.53 L68.0 303.68 L68.5 303.73 L69.0 304.96 L69.5 304.89 L70.0 305.17 L70.5 305.73 L71.0 305.99 L71.5 305.86 L72.0 306.24 L72.5 306.36 L73.0 307.31 L73.5 306.64 L74.0 306.71 L74.5 306.75 L75.0 307.32 L75.5 307.53 L76.0 307.35 L76.5 307.52 L77.0 307.44 L77.5 308.16 L78.0 307.85 L78.5 307.82 L79.0 308.09 L79.5 308.13 L80.0 307.72 L80.5 307.92 L81.0 308.14 L81.5 307.76 L82.0 308.06 L82.5 308.13 L83.0 308.12 L83.5 308.09 L84.0 307.93 L84.5 308.01 L85.0 307.97 L85.5 308.07 L86.0 307.92 L86.5 308.11 L87.0 307.95 L87.5 308.15 L88.0 307.85 L88.5 307.90 L89.0 308.04 L89.5 307.97 L90.0 308.08" fill="none" stroke="#333" stroke-width="0.8" stroke-linejoin="round" stroke-dasharray="1.8 0.5"/>
<line x1="25.50" y1="51.50" x2="214.50" y2="51.50" stroke="#231f20" stroke-width="1.4" />
<line x1="25.50" y1="44.60" x2="25.50" y2="57.40" stroke="#231f20" stroke-width="1.4" />
<line x1="214.50" y1="44.80" x2="214.50" y2="57.40" stroke="#231f20" stroke-width="1.4" />
<text x="118.7" y="47.9" font-size="12.20" font-weight="bold" text-anchor="middle"  style="">M1</text>
<line x1="214.50" y1="65.50" x2="247.50" y2="65.50" stroke="#231f20" stroke-width="1.4" />
<line x1="214.50" y1="59.60" x2="214.50" y2="72.20" stroke="#231f20" stroke-width="1.4" />
<line x1="247.50" y1="59.60" x2="247.50" y2="72.20" stroke="#231f20" stroke-width="1.4" />
<text x="231.5" y="62.1" font-size="12.00" font-weight="bold" text-anchor="middle"  style="">M2</text>
<text x="26.6" y="35.3" font-size="30.50" font-weight="bold" text-anchor="start"  style="">A</text>
<text x="17.0" y="322.8" font-size="12.20" font-weight="bold">10<tspan dy="-5" font-size="7.00" font-weight="normal" stroke="none">0</tspan></text>
<text x="72.8" y="322.8" font-size="12.20" font-weight="bold">10<tspan dy="-5" font-size="7.00" font-weight="normal" stroke="none">1</tspan></text>
<text x="128.6" y="322.8" font-size="12.20" font-weight="bold">10<tspan dy="-5" font-size="7.00" font-weight="normal" stroke="none">2</tspan></text>
<text x="184.4" y="322.8" font-size="12.20" font-weight="bold">10<tspan dy="-5" font-size="7.00" font-weight="normal" stroke="none">3</tspan></text>
<text x="240.2" y="322.8" font-size="12.20" font-weight="bold">10<tspan dy="-5" font-size="7.00" font-weight="normal" stroke="none">4</tspan></text>
<text x="108.2" y="337.4" font-size="12.80" font-weight="bold" text-anchor="start"  style="">DCFH-DA</text>
<text x="0" y="0" font-size="12.50" font-weight="bold" text-anchor="middle" transform="translate(16.4 227.8) rotate(-90)">Counts</text>
<text x="250.9" y="128.5" font-size="12.20" font-weight="bold" text-anchor="start"  style="">Glu. mM</text>
<line x1="249.20" y1="133.50" x2="295.00" y2="133.50" stroke="#231f20" stroke-width="1.6" />
<text x="265.5" y="150.9" font-size="12.50" font-weight="bold" text-anchor="start"  style="">50</text>
<text x="265.5" y="164.1" font-size="12.50" font-weight="bold" text-anchor="start"  style="">40</text>
<text x="265.5" y="177.3" font-size="12.50" font-weight="bold" text-anchor="start"  style="">35</text>
<text x="265.5" y="190.5" font-size="12.50" font-weight="bold" text-anchor="start"  style="">30</text>
<text x="265.5" y="203.7" font-size="12.50" font-weight="bold" text-anchor="start"  style="">25</text>
<text x="265.5" y="217.0" font-size="12.50" font-weight="bold" text-anchor="start"  style="">17.5</text>
<text x="265.5" y="232.4" font-size="12.50" font-weight="bold" text-anchor="start"  style="">50</text>
<text x="265.5" y="245.5" font-size="12.50" font-weight="bold" text-anchor="start"  style="">40</text>
<text x="265.5" y="258.6" font-size="12.50" font-weight="bold" text-anchor="start"  style="">35</text>
<text x="265.5" y="271.7" font-size="12.50" font-weight="bold" text-anchor="start"  style="">30</text>
<text x="265.5" y="284.8" font-size="12.50" font-weight="bold" text-anchor="start"  style="">25</text>
<text x="265.5" y="297.9" font-size="12.50" font-weight="bold" text-anchor="start"  style="">17.5</text>
<text x="253.2" y="309.5" font-size="12.30" font-weight="bold" text-anchor="start"  style="">unstain</text>
<line x1="300.60" y1="140.00" x2="300.60" y2="217.40" stroke="#231f20" stroke-width="1.6" />
<line x1="300.60" y1="223.70" x2="300.60" y2="300.00" stroke="#231f20" stroke-width="1.6" />
<text x="0" y="0" font-size="12.20" font-weight="bold" text-anchor="middle" transform="translate(314.0 185.3) rotate(-90)">GlcN</text>
<text x="0" y="0" font-size="12.20" font-weight="bold" text-anchor="middle" transform="translate(315.7 263.7) rotate(-90)">Vehicle</text>
<line x1="433.50" y1="145.90" x2="433.50" y2="247.15" stroke="#231f20" stroke-width="1.3" />
<line x1="429.80" y1="246.50" x2="433.50" y2="246.50" stroke="#231f20" stroke-width="1.3" />
<text x="428.2" y="251.2" font-size="12.50" font-weight="bold" text-anchor="end"  style="">0</text>
<line x1="429.80" y1="226.50" x2="433.50" y2="226.50" stroke="#231f20" stroke-width="1.3" />
<text x="428.2" y="231.1" font-size="12.50" font-weight="bold" text-anchor="end"  style="">16</text>
<line x1="429.80" y1="206.50" x2="433.50" y2="206.50" stroke="#231f20" stroke-width="1.3" />
<text x="428.2" y="211.0" font-size="12.50" font-weight="bold" text-anchor="end"  style="">32</text>
<line x1="429.80" y1="186.50" x2="433.50" y2="186.50" stroke="#231f20" stroke-width="1.3" />
<text x="428.2" y="190.9" font-size="12.50" font-weight="bold" text-anchor="end"  style="">48</text>
<line x1="429.80" y1="166.50" x2="433.50" y2="166.50" stroke="#231f20" stroke-width="1.3" />
<text x="428.2" y="170.8" font-size="12.50" font-weight="bold" text-anchor="end"  style="">64</text>
<line x1="429.80" y1="146.50" x2="433.50" y2="146.50" stroke="#231f20" stroke-width="1.3" />
<text x="428.2" y="150.7" font-size="12.50" font-weight="bold" text-anchor="end"  style="">80</text>
<line x1="432.85" y1="246.50" x2="672.80" y2="246.50" stroke="#231f20" stroke-width="1.3" />
<line x1="453.50" y1="246.50" x2="453.50" y2="249.50" stroke="#231f20" stroke-width="1.3" />
<line x1="473.50" y1="246.50" x2="473.50" y2="249.50" stroke="#231f20" stroke-width="1.3" />
<line x1="493.50" y1="246.50" x2="493.50" y2="249.50" stroke="#231f20" stroke-width="1.3" />
<line x1="513.50" y1="246.50" x2="513.50" y2="249.50" stroke="#231f20" stroke-width="1.3" />
<line x1="533.50" y1="246.50" x2="533.50" y2="249.50" stroke="#231f20" stroke-width="1.3" />
<line x1="552.50" y1="246.50" x2="552.50" y2="249.50" stroke="#231f20" stroke-width="1.3" />
<line x1="572.50" y1="246.50" x2="572.50" y2="249.50" stroke="#231f20" stroke-width="1.3" />
<line x1="592.50" y1="246.50" x2="592.50" y2="249.50" stroke="#231f20" stroke-width="1.3" />
<line x1="612.50" y1="246.50" x2="612.50" y2="249.50" stroke="#231f20" stroke-width="1.3" />
<line x1="632.50" y1="246.50" x2="632.50" y2="249.50" stroke="#231f20" stroke-width="1.3" />
<line x1="652.50" y1="246.50" x2="652.50" y2="249.50" stroke="#231f20" stroke-width="1.3" />
<line x1="672.50" y1="246.50" x2="672.50" y2="249.50" stroke="#231f20" stroke-width="1.3" />
<line x1="442.50" y1="179.30" x2="442.50" y2="175.30" stroke="#231f20" stroke-width="1.2" />
<line x1="440.60" y1="175.50" x2="444.40" y2="175.50" stroke="#231f20" stroke-width="1.3" />
<rect x="439.50" y="179.50" width="6.00" height="67.00" fill="#fff" stroke="#231f20" stroke-width="1.3"/>
<line x1="462.50" y1="158.40" x2="462.50" y2="153.50" stroke="#231f20" stroke-width="1.2" />
<line x1="460.60" y1="153.50" x2="464.40" y2="153.50" stroke="#231f20" stroke-width="1.3" />
<rect x="459.50" y="158.50" width="6.00" height="88.00" fill="#fff" stroke="#231f20" stroke-width="1.3"/>
<line x1="482.50" y1="186.00" x2="482.50" y2="176.90" stroke="#231f20" stroke-width="1.2" />
<line x1="480.60" y1="176.50" x2="484.40" y2="176.50" stroke="#231f20" stroke-width="1.3" />
<rect x="479.50" y="186.50" width="6.00" height="60.00" fill="#fff" stroke="#231f20" stroke-width="1.3"/>
<line x1="502.50" y1="190.20" x2="502.50" y2="174.60" stroke="#231f20" stroke-width="1.2" />
<line x1="500.60" y1="174.50" x2="504.40" y2="174.50" stroke="#231f20" stroke-width="1.3" />
<rect x="499.50" y="190.50" width="6.00" height="56.00" fill="#fff" stroke="#231f20" stroke-width="1.3"/>
<line x1="522.50" y1="186.00" x2="522.50" y2="177.40" stroke="#231f20" stroke-width="1.2" />
<line x1="520.60" y1="177.50" x2="524.40" y2="177.50" stroke="#231f20" stroke-width="1.3" />
<rect x="519.50" y="186.50" width="6.00" height="60.00" fill="#fff" stroke="#231f20" stroke-width="1.3"/>
<line x1="542.50" y1="181.60" x2="542.50" y2="174.60" stroke="#231f20" stroke-width="1.2" />
<line x1="540.60" y1="174.50" x2="544.40" y2="174.50" stroke="#231f20" stroke-width="1.3" />
<rect x="539.50" y="181.50" width="6.00" height="65.00" fill="#fff" stroke="#231f20" stroke-width="1.3"/>
<line x1="562.50" y1="243.60" x2="562.50" y2="242.80" stroke="#231f20" stroke-width="1.2" />
<line x1="560.60" y1="242.50" x2="564.40" y2="242.50" stroke="#231f20" stroke-width="1.3" />
<rect x="559.50" y="243.50" width="6.00" height="3.00" fill="#fff" stroke="#231f20" stroke-width="1.3"/>
<line x1="582.50" y1="240.40" x2="582.50" y2="236.20" stroke="#231f20" stroke-width="1.2" />
<line x1="580.60" y1="236.50" x2="584.40" y2="236.50" stroke="#231f20" stroke-width="1.3" />
<rect x="579.50" y="240.50" width="6.00" height="6.00" fill="#fff" stroke="#231f20" stroke-width="1.3"/>
<line x1="602.50" y1="242.10" x2="602.50" y2="239.00" stroke="#231f20" stroke-width="1.2" />
<line x1="600.60" y1="239.50" x2="604.40" y2="239.50" stroke="#231f20" stroke-width="1.3" />
<rect x="599.50" y="242.50" width="6.00" height="4.00" fill="#fff" stroke="#231f20" stroke-width="1.3"/>
<line x1="622.50" y1="242.10" x2="622.50" y2="238.60" stroke="#231f20" stroke-width="1.2" />
<line x1="620.60" y1="238.50" x2="624.40" y2="238.50" stroke="#231f20" stroke-width="1.3" />
<rect x="619.50" y="242.50" width="6.00" height="4.00" fill="#fff" stroke="#231f20" stroke-width="1.3"/>
<line x1="642.50" y1="232.50" x2="642.50" y2="223.10" stroke="#231f20" stroke-width="1.2" />
<line x1="640.60" y1="223.50" x2="644.40" y2="223.50" stroke="#231f20" stroke-width="1.3" />
<rect x="639.50" y="232.50" width="6.00" height="14.00" fill="#fff" stroke="#231f20" stroke-width="1.3"/>
<line x1="662.50" y1="240.70" x2="662.50" y2="237.40" stroke="#231f20" stroke-width="1.2" />
<line x1="660.60" y1="237.50" x2="664.40" y2="237.50" stroke="#231f20" stroke-width="1.3" />
<rect x="659.50" y="240.50" width="6.00" height="6.00" fill="#fff" stroke="#231f20" stroke-width="1.3"/>
<text x="463.5" y="153.0" font-size="8.80" font-weight="bold" text-anchor="middle"  style="">*</text>
<line x1="556.80" y1="211.50" x2="671.80" y2="211.50" stroke="#231f20" stroke-width="1.1" />
<text x="611.8" y="213.3" font-size="10.80" font-weight="bold" text-anchor="middle" letter-spacing="0.4" style="">***</text>
<text x="0" y="0" font-size="10.4" font-weight="bold" text-anchor="start" transform="translate(447.1 271.6) rotate(-90)">17.5</text>
<text x="0" y="0" font-size="10.4" font-weight="bold" text-anchor="start" transform="translate(467.1 271.6) rotate(-90)">25</text>
<text x="0" y="0" font-size="10.4" font-weight="bold" text-anchor="start" transform="translate(487.0 271.6) rotate(-90)">30</text>
<text x="0" y="0" font-size="10.4" font-weight="bold" text-anchor="start" transform="translate(507.0 271.6) rotate(-90)">35</text>
<text x="0" y="0" font-size="10.4" font-weight="bold" text-anchor="start" transform="translate(526.9 271.6) rotate(-90)">40</text>
<text x="0" y="0" font-size="10.4" font-weight="bold" text-anchor="start" transform="translate(546.9 271.6) rotate(-90)">50</text>
<text x="0" y="0" font-size="10.4" font-weight="bold" text-anchor="start" transform="translate(566.9 271.6) rotate(-90)">17.5</text>
<text x="0" y="0" font-size="10.4" font-weight="bold" text-anchor="start" transform="translate(586.8 271.6) rotate(-90)">25</text>
<text x="0" y="0" font-size="10.4" font-weight="bold" text-anchor="start" transform="translate(606.8 271.6) rotate(-90)">30</text>
<text x="0" y="0" font-size="10.4" font-weight="bold" text-anchor="start" transform="translate(626.7 271.6) rotate(-90)">35</text>
<text x="0" y="0" font-size="10.4" font-weight="bold" text-anchor="start" transform="translate(646.7 271.6) rotate(-90)">40</text>
<text x="0" y="0" font-size="10.4" font-weight="bold" text-anchor="start" transform="translate(666.7 271.6) rotate(-90)">50</text>
<text x="349.0" y="268.6" font-size="12.10" font-weight="bold" text-anchor="start"  style="">Glucose mM:</text>
<line x1="435.30" y1="277.50" x2="548.60" y2="277.50" stroke="#231f20" stroke-width="1.6" />
<line x1="556.90" y1="277.50" x2="671.20" y2="277.50" stroke="#231f20" stroke-width="1.6" />
<text x="486.9" y="292.4" font-size="12.10" font-weight="bold" text-anchor="middle"  style="">Vehicle</text>
<text x="611.2" y="292.6" font-size="12.10" font-weight="bold" text-anchor="middle"  style="">GlcN</text>
<text x="0" y="0" font-size="12.45" font-weight="bold" text-anchor="middle" transform="translate(388.3 193.6) rotate(-90)">DCFHDA intensity</text>
<text x="0" y="0" font-size="12.65" font-weight="bold" text-anchor="middle" transform="translate(401.7 195.6) rotate(-90)">(% of M2-Gated)</text>
<text x="444.2" y="133.4" font-size="12.15" font-weight="normal" text-anchor="start"  style=""><tspan font-style="italic">p</tspan>(ANOVA)=1.5×10<tspan dy="-5" font-size="6.2">-2</tspan></text>
<text x="564.3" y="134.2" font-size="11.95" font-weight="normal" text-anchor="start"  style=""><tspan font-style="italic">p</tspan>(ANOVA)=1.5×10<tspan dy="-5" font-size="6.2">-1</tspan></text>
<line x1="75.50" y1="488.50" x2="75.50" y2="583.50" stroke="#6a6a6a" stroke-width="1.0" />
<line x1="89.50" y1="488.50" x2="89.50" y2="583.50" stroke="#6a6a6a" stroke-width="1.0" />
<line x1="104.50" y1="488.50" x2="104.50" y2="583.50" stroke="#6a6a6a" stroke-width="1.0" />
<line x1="118.50" y1="488.50" x2="118.50" y2="583.50" stroke="#6a6a6a" stroke-width="1.0" />
<line x1="132.50" y1="488.50" x2="132.50" y2="583.50" stroke="#6a6a6a" stroke-width="1.0" />
<line x1="146.50" y1="488.50" x2="146.50" y2="583.50" stroke="#6a6a6a" stroke-width="1.0" />
<line x1="161.50" y1="488.50" x2="161.50" y2="583.50" stroke="#6a6a6a" stroke-width="1.0" />
<line x1="175.50" y1="488.50" x2="175.50" y2="583.50" stroke="#6a6a6a" stroke-width="1.0" />
<line x1="189.50" y1="488.50" x2="189.50" y2="583.50" stroke="#6a6a6a" stroke-width="1.0" />
<line x1="75.50" y1="488.50" x2="189.50" y2="488.50" stroke="#6a6a6a" stroke-width="1.0" />
<line x1="75.50" y1="512.50" x2="189.50" y2="512.50" stroke="#6a6a6a" stroke-width="1.0" />
<line x1="75.50" y1="536.50" x2="189.50" y2="536.50" stroke="#6a6a6a" stroke-width="1.0" />
<line x1="75.50" y1="560.50" x2="189.50" y2="560.50" stroke="#6a6a6a" stroke-width="1.0" />
<line x1="75.50" y1="583.50" x2="189.50" y2="583.50" stroke="#6a6a6a" stroke-width="1.0" />
<path d="M75.5 488.63 L76.0 488.79 L76.5 488.81 L77.0 488.64 L77.5 488.48 L78.0 488.62 L78.5 488.76 L79.0 489.00 L79.5 488.87 L80.0 488.84 L80.5 488.45 L81.0 489.00 L81.5 488.58 L82.0 488.81 L82.5 488.59 L83.0 489.00 L83.5 488.74 L84.0 488.58 L84.5 488.69 L85.0 488.49 L85.5 488.61 L86.0 488.64 L86.5 488.98 L87.0 488.80 L87.5 488.85 L88.0 488.74 L88.5 488.02 L89.0 488.77 L89.5 488.54 L90.0 488.57 L90.5 488.51 L91.0 488.54 L91.5 489.00 L92.0 488.69 L92.5 489.00 L93.0 489.00 L93.5 488.46 L94.0 488.72 L94.5 488.97 L95.0 488.99 L95.5 488.66 L96.0 489.00 L96.5 488.35 L97.0 488.53 L97.5 488.46 L98.0 488.41 L98.5 488.48 L99.0 488.39 L99.5 488.77 L100.0 488.64 L100.5 488.87 L101.0 488.26 L101.5 488.63 L102.0 488.56 L102.5 488.86 L103.0 488.77 L103.5 488.76 L104.0 488.89 L104.5 488.93 L105.0 488.35 L105.5 488.69 L106.0 488.36 L106.5 488.32 L107.0 488.38 L107.5 488.22 L108.0 487.66 L108.5 487.82 L109.0 488.11 L109.5 487.93 L110.0 487.74 L110.5 487.80 L111.0 486.78 L111.5 487.21 L112.0 486.42 L112.5 487.39 L113.0 487.27 L113.5 486.10 L114.0 487.71 L114.5 487.50 L115.0 487.69 L115.5 487.49 L116.0 487.39 L116.5 487.23 L117.0 487.30 L117.5 488.00 L118.0 487.89 L118.5 488.55 L119.0 488.02 L119.5 488.82 L120.0 487.98 L120.5 489.00 L121.0 488.42 L121.5 488.61 L122.0 488.92 L122.5 488.15 L123.0 488.79 L123.5 488.10 L124.0 488.70 L124.5 488.58 L125.0 489.00 L125.5 488.81 L126.0 488.57 L126.5 488.84 L127.0 488.81 L127.5 488.92 L128.0 488.65 L128.5 488.78 L129.0 487.84 L129.5 488.80 L130.0 488.55 L130.5 488.42 L131.0 488.58 L131.5 488.42 L132.0 488.89 L132.5 488.79 L133.0 488.86 L133.5 489.00 L134.0 488.28 L134.5 488.52 L135.0 489.00 L135.5 488.57 L136.0 488.13 L136.5 488.57 L137.0 488.36 L137.5 488.35 L138.0 488.39 L138.5 488.75 L139.0 488.65 L139.5 488.57 L140.0 488.10 L140.5 488.45 L141.0 488.90 L141.5 488.01 L142.0 488.35 L142.5 488.27 L143.0 488.24 L143.5 487.62 L144.0 488.07 L144.5 488.01 L145.0 487.54 L145.5 487.75 L146.0 488.05 L146.5 488.36 L147.0 486.96 L147.5 486.04 L148.0 487.29 L148.5 486.89 L149.0 486.21 L149.5 485.16 L150.0 484.87 L150.5 485.33 L151.0 484.28 L151.5 483.02 L152.0 483.78 L152.5 482.09 L153.0 482.74 L153.5 481.81 L154.0 480.30 L154.5 479.89 L155.0 480.44 L155.5 477.53 L156.0 477.08 L156.5 475.43 L157.0 476.29 L157.5 472.89 L158.0 472.14 L158.5 468.23 L159.0 469.01 L159.5 466.55 L160.0 463.88 L160.5 462.62 L161.0 458.67 L161.5 456.99 L162.0 457.97 L162.5 454.31 L163.0 451.34 L163.5 449.85 L164.0 449.72 L164.5 447.00 L165.0 446.09 L165.5 446.28 L166.0 445.93 L166.5 448.12 L167.0 447.29 L167.5 450.63 L168.0 450.48 L168.5 456.78 L169.0 456.46 L169.5 458.48 L170.0 460.75 L170.5 464.21 L171.0 464.95 L171.5 468.04 L172.0 470.24 L172.5 471.28 L173.0 473.37 L173.5 475.83 L174.0 478.14 L174.5 479.86 L175.0 480.95 L175.5 482.73 L176.0 484.77 L176.5 485.20 L177.0 487.08 L177.5 487.28 L178.0 487.90 L178.5 488.28 L179.0 488.68 L179.5 488.85 L180.0 488.28 L180.5 488.98 L181.0 488.75 L181.5 488.53 L182.0 488.86 L182.5 488.77 L183.0 488.50 L183.5 488.64 L184.0 488.82 L184.5 488.88 L185.0 488.79 L185.5 488.18 L186.0 488.86 L186.5 488.76 L187.0 488.42 L187.5 488.93 L188.0 488.81 L188.5 488.76 L189.0 488.65 L189.5 488.83" fill="none" stroke="#2f96d8" stroke-width="1.6" stroke-linejoin="round" />
<path d="M75.5 512.08 L76.0 512.63 L76.5 512.80 L77.0 512.68 L77.5 512.12 L78.0 512.44 L78.5 512.56 L79.0 512.46 L79.5 512.43 L80.0 512.28 L80.5 512.48 L81.0 512.21 L81.5 512.62 L82.0 512.51 L82.5 512.62 L83.0 512.49 L83.5 512.05 L84.0 512.80 L84.5 512.80 L85.0 512.65 L85.5 512.25 L86.0 512.44 L86.5 512.69 L87.0 512.49 L87.5 512.80 L88.0 512.77 L88.5 512.67 L89.0 512.39 L89.5 512.57 L90.0 512.49 L90.5 512.21 L91.0 512.59 L91.5 512.19 L92.0 512.72 L92.5 512.00 L93.0 512.80 L93.5 512.80 L94.0 512.45 L94.5 512.55 L95.0 512.33 L95.5 512.31 L96.0 512.80 L96.5 512.51 L97.0 511.93 L97.5 512.58 L98.0 512.12 L98.5 512.48 L99.0 512.58 L99.5 512.74 L100.0 512.64 L100.5 512.80 L101.0 512.14 L101.5 512.52 L102.0 512.66 L102.5 512.29 L103.0 512.72 L103.5 512.36 L104.0 512.30 L104.5 512.22 L105.0 512.33 L105.5 512.01 L106.0 512.36 L106.5 512.04 L107.0 511.72 L107.5 511.96 L108.0 511.65 L108.5 512.76 L109.0 511.62 L109.5 511.56 L110.0 511.79 L110.5 511.36 L111.0 510.98 L111.5 511.52 L112.0 511.48 L112.5 511.94 L113.0 512.04 L113.5 511.87 L114.0 512.30 L114.5 511.97 L115.0 511.71 L115.5 512.09 L116.0 512.18 L116.5 512.38 L117.0 511.84 L117.5 512.21 L118.0 512.24 L118.5 512.20 L119.0 512.08 L119.5 512.66 L120.0 512.55 L120.5 512.17 L121.0 512.58 L121.5 512.35 L122.0 511.80 L122.5 512.76 L123.0 512.37 L123.5 512.24 L124.0 512.00 L124.5 512.41 L125.0 512.75 L125.5 512.70 L126.0 512.44 L126.5 512.80 L127.0 511.83 L127.5 512.66 L128.0 512.04 L128.5 512.21 L129.0 512.36 L129.5 512.26 L130.0 512.78 L130.5 512.47 L131.0 512.21 L131.5 512.32 L132.0 512.21 L132.5 512.23 L133.0 511.95 L133.5 512.52 L134.0 512.20 L134.5 511.96 L135.0 512.33 L135.5 512.42 L136.0 511.99 L136.5 511.97 L137.0 512.43 L137.5 512.46 L138.0 512.03 L138.5 511.80 L139.0 512.27 L139.5 512.22 L140.0 511.67 L140.5 510.81 L141.0 511.77 L141.5 511.78 L142.0 511.87 L142.5 511.02 L143.0 511.46 L143.5 511.95 L144.0 511.71 L144.5 511.48 L145.0 510.87 L145.5 510.36 L146.0 509.65 L146.5 510.10 L147.0 508.96 L147.5 509.61 L148.0 508.20 L148.5 508.07 L149.0 507.47 L149.5 508.03 L150.0 507.04 L150.5 505.79 L151.0 503.74 L151.5 503.23 L152.0 501.59 L152.5 500.75 L153.0 498.93 L153.5 498.49 L154.0 495.98 L154.5 495.66 L155.0 494.78 L155.5 492.17 L156.0 490.76 L156.5 490.42 L157.0 487.51 L157.5 487.76 L158.0 484.48 L158.5 485.10 L159.0 480.98 L159.5 481.23 L160.0 478.17 L160.5 476.41 L161.0 475.43 L161.5 475.97 L162.0 473.52 L162.5 472.05 L163.0 470.35 L163.5 470.50 L164.0 470.47 L164.5 468.89 L165.0 471.72 L165.5 472.39 L166.0 478.08 L166.5 478.94 L167.0 480.72 L167.5 484.03 L168.0 487.06 L168.5 488.71 L169.0 491.07 L169.5 495.03 L170.0 498.35 L170.5 501.24 L171.0 503.11 L171.5 503.21 L172.0 506.59 L172.5 508.09 L173.0 509.00 L173.5 509.24 L174.0 510.91 L174.5 510.92 L175.0 512.06 L175.5 512.50 L176.0 512.54 L176.5 512.57 L177.0 512.63 L177.5 512.79 L178.0 512.42 L178.5 512.33 L179.0 512.50 L179.5 512.68 L180.0 512.38 L180.5 512.49 L181.0 512.59 L181.5 512.35 L182.0 512.20 L182.5 512.64 L183.0 512.72 L183.5 512.27 L184.0 512.50 L184.5 512.10 L185.0 512.37 L185.5 512.46 L186.0 512.68 L186.5 512.77 L187.0 512.29 L187.5 512.45 L188.0 512.62 L188.5 512.65 L189.0 512.58 L189.5 512.72" fill="none" stroke="#de3a98" stroke-width="1.6" stroke-linejoin="round" />
<path d="M75.5 535.90 L76.0 536.46 L76.5 536.54 L77.0 536.39 L77.5 536.55 L78.0 535.97 L78.5 536.11 L79.0 536.16 L79.5 535.99 L80.0 536.43 L80.5 536.59 L81.0 536.22 L81.5 536.23 L82.0 536.49 L82.5 536.18 L83.0 535.98 L83.5 536.42 L84.0 536.26 L84.5 536.22 L85.0 536.19 L85.5 536.07 L86.0 536.17 L86.5 535.99 L87.0 536.48 L87.5 536.40 L88.0 536.12 L88.5 536.40 L89.0 536.42 L89.5 536.31 L90.0 536.22 L90.5 536.41 L91.0 536.17 L91.5 535.99 L92.0 536.60 L92.5 536.60 L93.0 536.13 L93.5 536.48 L94.0 535.98 L94.5 535.67 L95.0 536.33 L95.5 536.38 L96.0 536.30 L96.5 536.24 L97.0 536.31 L97.5 536.50 L98.0 536.21 L98.5 536.60 L99.0 536.21 L99.5 536.28 L100.0 536.01 L100.5 536.26 L101.0 536.19 L101.5 536.51 L102.0 536.26 L102.5 536.13 L103.0 536.08 L103.5 536.27 L104.0 535.95 L104.5 536.02 L105.0 536.44 L105.5 536.60 L106.0 536.54 L106.5 536.28 L107.0 536.26 L107.5 536.36 L108.0 536.39 L108.5 536.16 L109.0 536.43 L109.5 536.60 L110.0 536.37 L110.5 536.08 L111.0 536.49 L111.5 536.16 L112.0 536.17 L112.5 536.30 L113.0 536.21 L113.5 536.50 L114.0 536.29 L114.5 535.97 L115.0 536.32 L115.5 536.54 L116.0 535.98 L116.5 536.60 L117.0 535.94 L117.5 536.28 L118.0 536.16 L118.5 536.22 L119.0 536.30 L119.5 536.06 L120.0 536.32 L120.5 536.48 L121.0 536.29 L121.5 536.60 L122.0 536.33 L122.5 536.60 L123.0 536.29 L123.5 536.14 L124.0 536.16 L124.5 536.33 L125.0 536.60 L125.5 536.40 L126.0 536.02 L126.5 536.43 L127.0 536.18 L127.5 536.44 L128.0 535.95 L128.5 536.60 L129.0 536.41 L129.5 536.38 L130.0 536.18 L130.5 536.29 L131.0 536.26 L131.5 536.60 L132.0 535.86 L132.5 536.25 L133.0 536.44 L133.5 535.99 L134.0 536.54 L134.5 536.22 L135.0 536.08 L135.5 536.13 L136.0 536.24 L136.5 536.32 L137.0 536.52 L137.5 536.22 L138.0 536.58 L138.5 536.06 L139.0 536.11 L139.5 536.29 L140.0 536.60 L140.5 536.15 L141.0 536.15 L141.5 536.53 L142.0 536.38 L142.5 536.26 L143.0 536.14 L143.5 536.37 L144.0 536.48 L144.5 536.41 L145.0 536.51 L145.5 535.91 L146.0 535.89 L146.5 536.60 L147.0 536.38 L147.5 535.95 L148.0 535.99 L148.5 535.86 L149.0 536.01 L149.5 536.18 L150.0 536.19 L150.5 535.88 L151.0 536.08 L151.5 536.60 L152.0 536.07 L152.5 536.58 L153.0 535.77 L153.5 535.87 L154.0 535.96 L154.5 535.77 L155.0 536.33 L155.5 535.78 L156.0 535.62 L156.5 535.11 L157.0 534.94 L157.5 534.45 L158.0 534.05 L158.5 534.35 L159.0 533.81 L159.5 532.13 L160.0 532.58 L160.5 531.60 L161.0 530.30 L161.5 530.02 L162.0 527.33 L162.5 528.08 L163.0 526.61 L163.5 526.35 L164.0 522.94 L164.5 522.56 L165.0 520.40 L165.5 519.05 L166.0 515.88 L166.5 515.92 L167.0 515.17 L167.5 513.59 L168.0 510.75 L168.5 511.78 L169.0 508.82 L169.5 508.38 L170.0 506.37 L170.5 502.73 L171.0 503.79 L171.5 502.25 L172.0 499.98 L172.5 502.01 L173.0 499.76 L173.5 501.15 L174.0 499.84 L174.5 501.11 L175.0 500.14 L175.5 501.93 L176.0 501.80 L176.5 501.23 L177.0 503.59 L177.5 503.19 L178.0 505.40 L178.5 507.01 L179.0 510.61 L179.5 511.69 L180.0 513.76 L180.5 515.23 L181.0 516.94 L181.5 519.09 L182.0 521.43 L182.5 524.31 L183.0 526.14 L183.5 527.23 L184.0 529.84 L184.5 530.71 L185.0 531.83 L185.5 532.69 L186.0 533.66 L186.5 535.21 L187.0 535.12 L187.5 536.40 L188.0 536.23 L188.5 535.92 L189.0 536.32 L189.5 536.17" fill="none" stroke="#66bc2e" stroke-width="1.6" stroke-linejoin="round" />
<path d="M75.5 560.12 L76.0 560.08 L76.5 559.79 L77.0 559.64 L77.5 560.21 L78.0 559.50 L78.5 559.80 L79.0 560.18 L79.5 560.19 L80.0 560.02 L80.5 560.12 L81.0 560.30 L81.5 560.30 L82.0 559.84 L82.5 560.23 L83.0 559.66 L83.5 559.53 L84.0 560.11 L84.5 559.69 L85.0 560.13 L85.5 559.56 L86.0 559.83 L86.5 560.30 L87.0 560.13 L87.5 560.07 L88.0 559.94 L88.5 559.68 L89.0 560.30 L89.5 560.02 L90.0 559.35 L90.5 560.11 L91.0 560.17 L91.5 559.99 L92.0 560.30 L92.5 559.83 L93.0 559.96 L93.5 559.79 L94.0 559.75 L94.5 559.55 L95.0 560.08 L95.5 559.92 L96.0 560.30 L96.5 559.76 L97.0 559.95 L97.5 559.89 L98.0 560.08 L98.5 560.01 L99.0 559.76 L99.5 560.03 L100.0 559.97 L100.5 560.06 L101.0 560.02 L101.5 559.82 L102.0 560.14 L102.5 560.11 L103.0 560.17 L103.5 560.08 L104.0 560.01 L104.5 560.14 L105.0 560.07 L105.5 559.82 L106.0 560.15 L106.5 560.13 L107.0 559.80 L107.5 560.04 L108.0 559.92 L108.5 560.30 L109.0 560.09 L109.5 559.49 L110.0 559.86 L110.5 559.99 L111.0 559.93 L111.5 560.23 L112.0 560.20 L112.5 560.02 L113.0 559.84 L113.5 560.30 L114.0 559.50 L114.5 560.18 L115.0 560.09 L115.5 560.30 L116.0 560.28 L116.5 560.00 L117.0 559.91 L117.5 560.30 L118.0 560.30 L118.5 560.26 L119.0 559.67 L119.5 560.14 L120.0 559.80 L120.5 559.96 L121.0 559.65 L121.5 559.87 L122.0 560.12 L122.5 560.19 L123.0 559.77 L123.5 559.95 L124.0 559.91 L124.5 559.71 L125.0 559.95 L125.5 559.85 L126.0 560.14 L126.5 560.24 L127.0 560.24 L127.5 560.13 L128.0 559.69 L128.5 559.93 L129.0 560.02 L129.5 560.22 L130.0 560.01 L130.5 559.64 L131.0 559.77 L131.5 559.95 L132.0 560.01 L132.5 559.83 L133.0 559.98 L133.5 559.78 L134.0 559.79 L134.5 559.76 L135.0 560.12 L135.5 560.23 L136.0 559.65 L136.5 560.22 L137.0 560.19 L137.5 560.02 L138.0 559.89 L138.5 560.02 L139.0 559.75 L139.5 560.27 L140.0 560.26 L140.5 560.15 L141.0 559.86 L141.5 559.89 L142.0 560.09 L142.5 559.83 L143.0 559.94 L143.5 560.04 L144.0 560.15 L144.5 559.90 L145.0 560.09 L145.5 559.91 L146.0 560.10 L146.5 559.93 L147.0 559.76 L147.5 559.80 L148.0 559.46 L148.5 559.49 L149.0 559.52 L149.5 559.13 L150.0 559.77 L150.5 558.85 L151.0 559.77 L151.5 558.74 L152.0 558.61 L152.5 558.41 L153.0 558.68 L153.5 558.37 L154.0 558.17 L154.5 558.25 L155.0 558.00 L155.5 557.58 L156.0 557.63 L156.5 557.61 L157.0 557.28 L157.5 557.12 L158.0 556.34 L158.5 557.11 L159.0 556.65 L159.5 555.43 L160.0 555.40 L160.5 554.88 L161.0 553.51 L161.5 552.32 L162.0 551.07 L162.5 551.40 L163.0 549.64 L163.5 547.46 L164.0 545.24 L164.5 542.72 L165.0 540.61 L165.5 538.77 L166.0 537.40 L166.5 534.42 L167.0 530.30 L167.5 528.49 L168.0 527.50 L168.5 527.61 L169.0 526.03 L169.5 523.99 L170.0 526.52 L170.5 525.64 L171.0 523.99 L171.5 526.31 L172.0 523.36 L172.5 524.79 L173.0 522.08 L173.5 524.87 L174.0 524.52 L174.5 525.16 L175.0 524.52 L175.5 527.51 L176.0 528.35 L176.5 531.20 L177.0 534.18 L177.5 534.59 L178.0 536.35 L178.5 538.80 L179.0 540.59 L179.5 541.03 L180.0 542.55 L180.5 544.21 L181.0 543.26 L181.5 546.75 L182.0 547.13 L182.5 550.01 L183.0 549.35 L183.5 551.82 L184.0 553.16 L184.5 554.19 L185.0 555.19 L185.5 556.61 L186.0 557.88 L186.5 558.45 L187.0 559.43 L187.5 559.59 L188.0 559.82 L188.5 560.11 L189.0 559.89 L189.5 560.02" fill="none" stroke="#da1c2c" stroke-width="1.6" stroke-linejoin="round" />
<path d="M75.9 579.04 L76.4 578.29 L76.9 576.86 L77.4 575.36 L77.9 573.55 L78.4 571.51 L78.9 568.36 L79.4 565.51 L79.9 562.97 L80.4 559.96 L80.9 556.70 L81.4 553.59 L81.9 549.77 L82.4 547.67 L82.9 543.75 L83.4 541.77 L83.9 539.26 L84.4 537.87 L84.9 535.52 L85.4 533.31 L85.9 535.21 L86.4 536.59 L86.9 537.87 L87.4 539.62 L87.9 541.89 L88.4 545.32 L88.9 548.06 L89.4 550.47 L89.9 552.35 L90.4 555.62 L90.9 555.97 L91.4 559.11 L91.9 560.90 L92.4 562.07 L92.9 565.21 L93.4 566.70 L93.9 568.80 L94.4 570.02 L94.9 572.07 L95.4 573.20 L95.9 574.90 L96.4 575.53 L96.9 577.09 L97.4 578.28 L97.9 578.73 L98.4 580.11 L98.9 579.89 L99.4 580.76 L99.9 581.30 L100.4 581.76 L100.9 581.88 L101.4 582.38 L101.9 582.67 L102.4 582.94 L102.9 582.99 L103.4 582.91 L103.9 583.31 L104.4 583.10 L104.9 583.18 L105.4 583.15 L105.9 583.04 L106.4 583.13 L106.9 583.32 L107.4 583.21 L107.9 583.37 L108.4 583.19 L108.9 583.32 L109.4 583.04 L109.9 583.16" fill="none" stroke="#444" stroke-width="0.75" stroke-linejoin="round" stroke-dasharray="1.8 0.5"/>
<line x1="172.40" y1="431.50" x2="188.30" y2="431.50" stroke="#231f20" stroke-width="1.1" />
<line x1="172.40" y1="428.30" x2="172.40" y2="434.70" stroke="#231f20" stroke-width="1.1" />
<line x1="188.30" y1="428.30" x2="188.30" y2="434.70" stroke="#231f20" stroke-width="1.1" />
<text x="180.5" y="427.9" font-size="9.30" font-weight="bold" text-anchor="middle"  style="">M2</text>
<text x="25.0" y="400.0" font-size="30.50" font-weight="bold" text-anchor="start"  style="">B</text>
<text x="66.6" y="597.0" font-size="12.40" font-weight="normal" stroke="#231f20" stroke-width="0.45">10<tspan dy="-5" font-size="6.80" font-weight="normal" stroke="none">0</tspan></text>
<text x="94.8" y="597.0" font-size="12.40" font-weight="normal" stroke="#231f20" stroke-width="0.45">10<tspan dy="-5" font-size="6.80" font-weight="normal" stroke="none">1</tspan></text>
<text x="123.0" y="597.0" font-size="12.40" font-weight="normal" stroke="#231f20" stroke-width="0.45">10<tspan dy="-5" font-size="6.80" font-weight="normal" stroke="none">2</tspan></text>
<text x="151.2" y="597.0" font-size="12.40" font-weight="normal" stroke="#231f20" stroke-width="0.45">10<tspan dy="-5" font-size="6.80" font-weight="normal" stroke="none">3</tspan></text>
<text x="179.4" y="597.0" font-size="12.40" font-weight="normal" stroke="#231f20" stroke-width="0.45">10<tspan dy="-5" font-size="6.80" font-weight="normal" stroke="none">4</tspan></text>
<text x="102.2" y="610.4" font-size="12.80" font-weight="bold" text-anchor="start"  style="">DCFH-DA</text>
<text x="0" y="0" font-size="12.20" font-weight="bold" text-anchor="middle" transform="translate(70.0 538.7) rotate(-90)">Counts</text>
<text x="190.7" y="472.4" font-size="12.00" font-weight="bold" text-anchor="start"  style="">Glu. mM</text>
<line x1="192.20" y1="477.60" x2="237.80" y2="477.60" stroke="#231f20" stroke-width="1.6" />
<text x="206.8" y="493.7" font-size="12.50" font-weight="bold" text-anchor="start"  style="">50</text>
<text x="206.8" y="517.1" font-size="12.50" font-weight="bold" text-anchor="start"  style="">17.5</text>
<text x="206.8" y="541.8" font-size="12.50" font-weight="bold" text-anchor="start"  style="">50</text>
<text x="206.8" y="564.6" font-size="12.50" font-weight="bold" text-anchor="start"  style="">17.5</text>
<text x="192.3" y="584.0" font-size="12.40" font-weight="bold" text-anchor="start"  style="">unstain</text>
<line x1="243.90" y1="484.60" x2="243.90" y2="514.10" stroke="#231f20" stroke-width="1.6" />
<line x1="243.90" y1="534.80" x2="243.90" y2="564.60" stroke="#231f20" stroke-width="1.6" />
<text x="250.6" y="505.9" font-size="12.10" font-weight="bold" text-anchor="start"  style="">GlcN</text>
<text x="250.6" y="553.6" font-size="12.20" font-weight="bold" text-anchor="start"  style="">Vehicle</text>
<line x1="474.50" y1="453.30" x2="474.50" y2="542.15" stroke="#231f20" stroke-width="1.3" />
<line x1="470.80" y1="541.50" x2="474.50" y2="541.50" stroke="#231f20" stroke-width="1.3" />
<text x="469.3" y="545.8" font-size="12.50" font-weight="bold" text-anchor="end"  style="">0</text>
<line x1="470.80" y1="523.50" x2="474.50" y2="523.50" stroke="#231f20" stroke-width="1.3" />
<text x="469.3" y="528.3" font-size="12.50" font-weight="bold" text-anchor="end"  style="">14</text>
<line x1="470.80" y1="506.50" x2="474.50" y2="506.50" stroke="#231f20" stroke-width="1.3" />
<text x="469.3" y="510.8" font-size="12.50" font-weight="bold" text-anchor="end"  style="">28</text>
<line x1="470.80" y1="488.50" x2="474.50" y2="488.50" stroke="#231f20" stroke-width="1.3" />
<text x="469.3" y="493.2" font-size="12.50" font-weight="bold" text-anchor="end"  style="">42</text>
<line x1="470.80" y1="471.50" x2="474.50" y2="471.50" stroke="#231f20" stroke-width="1.3" />
<text x="469.3" y="475.7" font-size="12.50" font-weight="bold" text-anchor="end"  style="">56</text>
<line x1="470.80" y1="453.50" x2="474.50" y2="453.50" stroke="#231f20" stroke-width="1.3" />
<text x="469.3" y="458.2" font-size="12.50" font-weight="bold" text-anchor="end"  style="">70</text>
<line x1="473.85" y1="541.50" x2="617.00" y2="541.50" stroke="#231f20" stroke-width="1.3" />
<line x1="509.50" y1="541.50" x2="509.50" y2="544.70" stroke="#231f20" stroke-width="1.3" />
<line x1="545.50" y1="541.50" x2="545.50" y2="544.70" stroke="#231f20" stroke-width="1.3" />
<line x1="581.50" y1="541.50" x2="581.50" y2="544.70" stroke="#231f20" stroke-width="1.3" />
<line x1="616.50" y1="541.50" x2="616.50" y2="544.70" stroke="#231f20" stroke-width="1.3" />
<line x1="492.00" y1="474.10" x2="492.00" y2="469.40" stroke="#231f20" stroke-width="1.2" />
<line x1="490.40" y1="469.50" x2="493.60" y2="469.50" stroke="#231f20" stroke-width="1.3" />
<rect x="486.00" y="474.10" width="12.0" height="67.40" fill="#111"/>
<line x1="527.70" y1="476.00" x2="527.70" y2="468.80" stroke="#231f20" stroke-width="1.2" />
<line x1="526.10" y1="468.50" x2="529.30" y2="468.50" stroke="#231f20" stroke-width="1.3" />
<rect x="521.70" y="476.00" width="12.0" height="65.50" fill="#111"/>
<line x1="563.00" y1="537.70" x2="563.00" y2="537.00" stroke="#231f20" stroke-width="1.2" />
<line x1="561.40" y1="537.50" x2="564.60" y2="537.50" stroke="#231f20" stroke-width="1.3" />
<rect x="557.00" y="537.70" width="12.0" height="3.80" fill="#111"/>
<line x1="598.80" y1="535.00" x2="598.80" y2="531.60" stroke="#231f20" stroke-width="1.2" />
<line x1="597.20" y1="531.50" x2="600.40" y2="531.50" stroke="#231f20" stroke-width="1.3" />
<rect x="592.80" y="535.00" width="12.0" height="6.50" fill="#111"/>
<line x1="550.60" y1="524.50" x2="613.80" y2="524.50" stroke="#231f20" stroke-width="1.1" />
<text x="581.3" y="525.9" font-size="10.80" font-weight="bold" text-anchor="middle" letter-spacing="0.4" style="">***</text>
<text x="0" y="0" font-size="11.00" font-weight="bold" text-anchor="middle" transform="translate(433.6 495.8) rotate(-90)">DCFHDA intensity</text>
<text x="0" y="0" font-size="11.40" font-weight="bold" text-anchor="middle" transform="translate(444.6 497.2) rotate(-90)">(% of M2-Gated)</text>
<text x="395.2" y="559.6" font-size="12.55" font-weight="bold" text-anchor="start"  style="">Glucose mM:</text>
<text x="480.2" y="560.0" font-size="12.40" font-weight="bold" text-anchor="start"  style="">17.5</text>
<text x="520.7" y="560.0" font-size="12.40" font-weight="bold" text-anchor="start"  style="">50</text>
<text x="552.5" y="560.0" font-size="12.40" font-weight="bold" text-anchor="start"  style="">17.5</text>
<text x="593.0" y="560.0" font-size="12.40" font-weight="bold" text-anchor="start"  style="">50</text>
<line x1="477.60" y1="563.60" x2="540.00" y2="563.60" stroke="#231f20" stroke-width="1.6" />
<line x1="550.60" y1="563.60" x2="613.50" y2="563.60" stroke="#231f20" stroke-width="1.6" />
<text x="488.5" y="579.9" font-size="12.20" font-weight="bold" text-anchor="start"  style="">Vehicle</text>
<text x="564.6" y="580.3" font-size="12.50" font-weight="bold" text-anchor="start"  style="">GlcN</text>
</svg>
</body></html>
